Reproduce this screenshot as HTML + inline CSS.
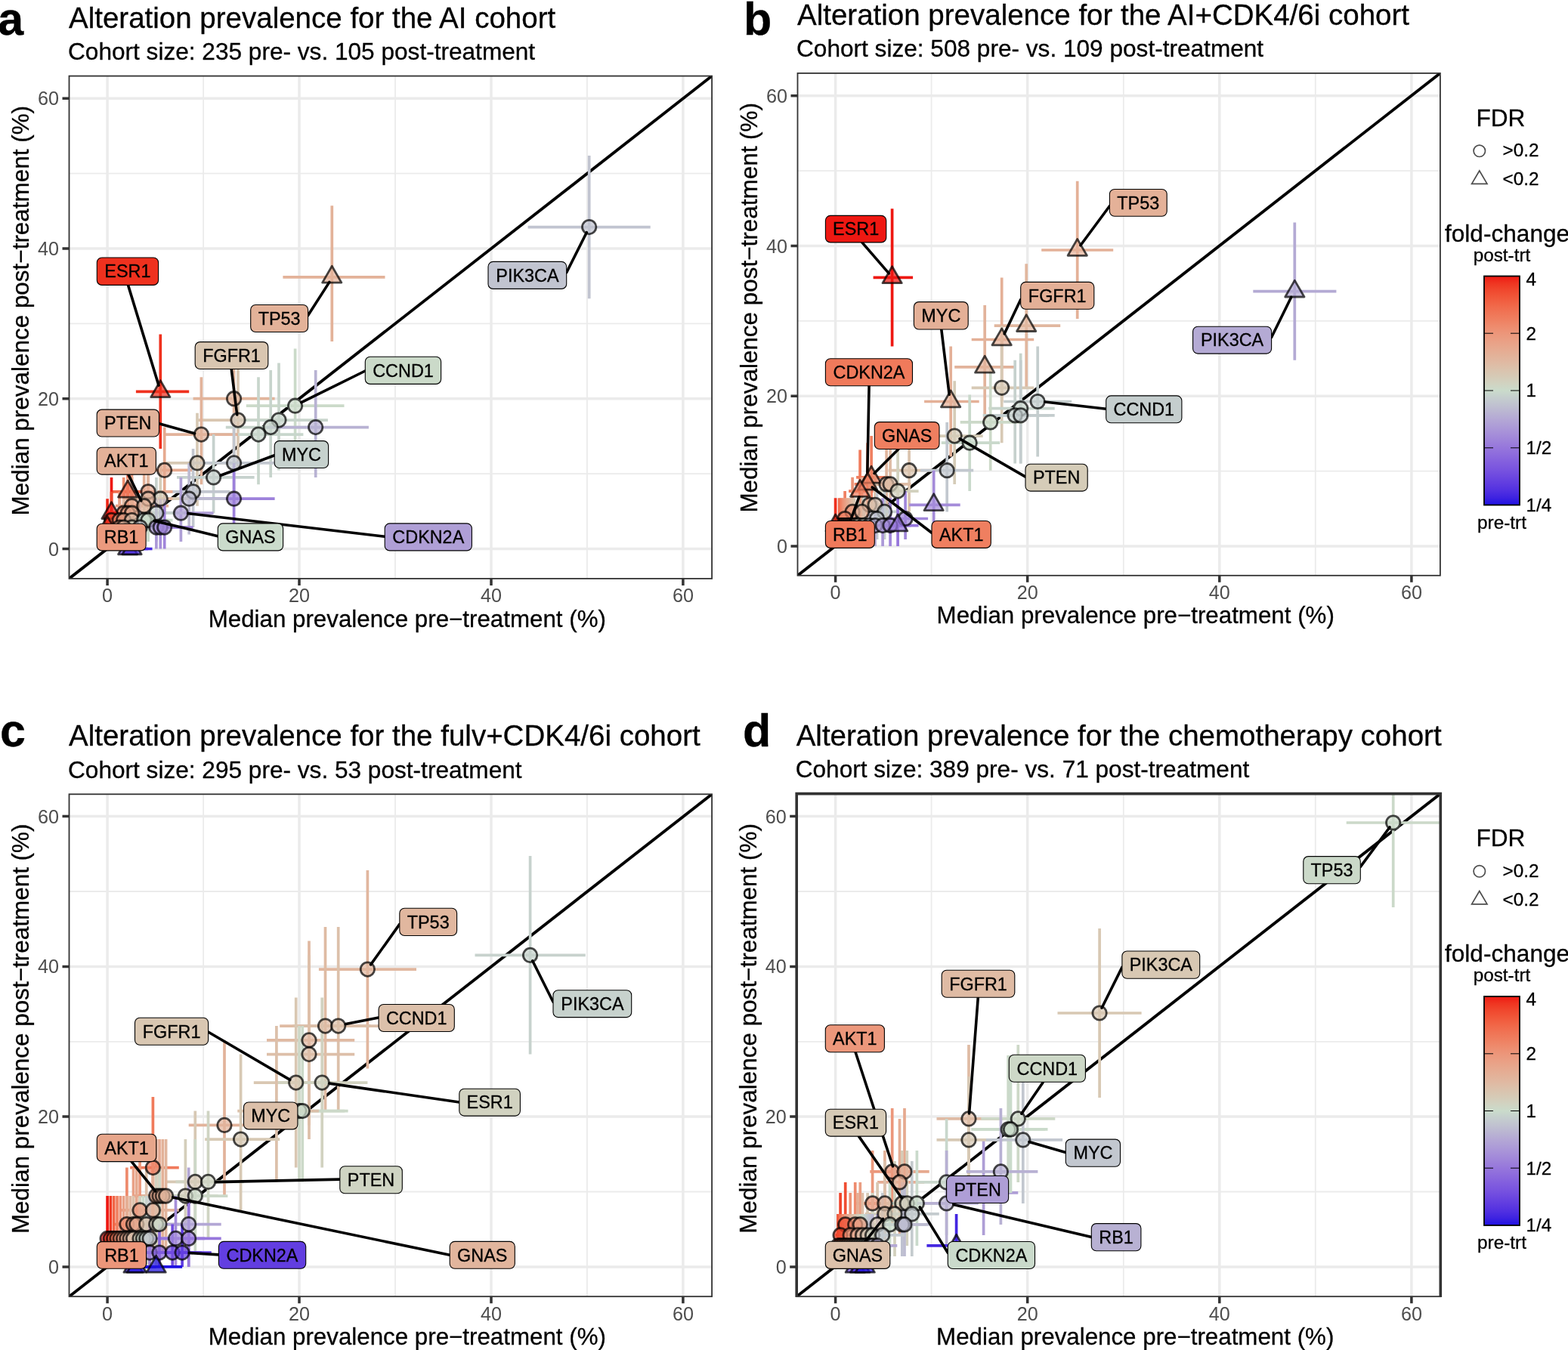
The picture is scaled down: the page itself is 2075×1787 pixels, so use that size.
<!DOCTYPE html>
<html lang="en"><head><meta charset="utf-8"><title>Alteration prevalence by cohort</title>
<style>html,body{margin:0;padding:0;background:#fff}svg{display:block}text{font-family:'Liberation Sans', Arial, Helvetica, sans-serif}.k{stroke:#000;stroke-width:.3px}</style></head><body>
<svg xmlns="http://www.w3.org/2000/svg" width="2075" height="1787" viewBox="0 0 2075 1787">
<rect width="2075" height="1787" fill="#fff"/>
<defs><linearGradient id="cbar" x1="0" y1="0" x2="0" y2="1"><stop offset="0%" stop-color="#ee1812"/><stop offset="3.1%" stop-color="#ef3521"/><stop offset="6.2%" stop-color="#f0482e"/><stop offset="9.4%" stop-color="#f1583a"/><stop offset="12.5%" stop-color="#f16647"/><stop offset="15.6%" stop-color="#f07354"/><stop offset="18.8%" stop-color="#ef7f60"/><stop offset="21.9%" stop-color="#ee8b6d"/><stop offset="25%" stop-color="#ec967a"/><stop offset="28.1%" stop-color="#ea9f84"/><stop offset="31.2%" stop-color="#e7a88e"/><stop offset="34.4%" stop-color="#e3b198"/><stop offset="37.5%" stop-color="#e0b9a2"/><stop offset="40.6%" stop-color="#dbc2ac"/><stop offset="43.8%" stop-color="#d6cab6"/><stop offset="46.9%" stop-color="#d1d3c1"/><stop offset="50%" stop-color="#cadbcb"/><stop offset="53.1%" stop-color="#c5cece"/><stop offset="56.2%" stop-color="#c0c2d0"/><stop offset="59.4%" stop-color="#bab5d2"/><stop offset="62.5%" stop-color="#b4a8d5"/><stop offset="65.6%" stop-color="#ad9cd7"/><stop offset="68.8%" stop-color="#a68fd9"/><stop offset="71.9%" stop-color="#9e83da"/><stop offset="75%" stop-color="#9676dc"/><stop offset="78.1%" stop-color="#8d6bdd"/><stop offset="81.2%" stop-color="#835fde"/><stop offset="84.4%" stop-color="#7954df"/><stop offset="87.5%" stop-color="#6d48e0"/><stop offset="90.6%" stop-color="#603ce0"/><stop offset="93.8%" stop-color="#5130e1"/><stop offset="96.9%" stop-color="#3d22e1"/><stop offset="100%" stop-color="#1e10e2"/></linearGradient></defs>
<g id="panel-a">
<clipPath id="clipa"><rect x="91.5" y="100.6" width="850.6" height="665.3"/></clipPath>
<g clip-path="url(#clipa)">
<path d="M269.1 100.6V765.9M91.5 627.1H942.1M523 100.6V765.9M91.5 428.4H942.1M776.9 100.6V765.9M91.5 229.6H942.1" stroke="#ebebeb" stroke-width="1.8" fill="none"/>
<path d="M142.1 100.6V765.9M91.5 726.5H942.1M396 100.6V765.9M91.5 527.7H942.1M650 100.6V765.9M91.5 329H942.1M903.9 100.6V765.9M91.5 130.2H942.1" stroke="#ebebeb" stroke-width="3.5" fill="none"/>
<path d="M74.5 779.2L959.1 87.3" stroke="#000" stroke-width="3.9" fill="none"/>
<path d="M769.5 300.6a10.2 10.2 0 1 0 20.4 0a10.2 10.2 0 1 0 -20.4 0ZM439.3 350.6L425.2 374.9H453.3ZM212.3 502.1L198.3 526.4H226.4ZM299.4 527.7a10.2 10.2 0 1 0 20.4 0a10.2 10.2 0 1 0 -20.4 0ZM304.8 556.1a10.2 10.2 0 1 0 20.4 0a10.2 10.2 0 1 0 -20.4 0ZM380.4 537.2a10.2 10.2 0 1 0 20.4 0a10.2 10.2 0 1 0 -20.4 0ZM358.8 556.1a10.2 10.2 0 1 0 20.4 0a10.2 10.2 0 1 0 -20.4 0ZM348 565.6a10.2 10.2 0 1 0 20.4 0a10.2 10.2 0 1 0 -20.4 0ZM331.8 575.1a10.2 10.2 0 1 0 20.4 0a10.2 10.2 0 1 0 -20.4 0ZM407.5 565.6a10.2 10.2 0 1 0 20.4 0a10.2 10.2 0 1 0 -20.4 0ZM256.2 575.1a10.2 10.2 0 1 0 20.4 0a10.2 10.2 0 1 0 -20.4 0ZM250.8 612.9a10.2 10.2 0 1 0 20.4 0a10.2 10.2 0 1 0 -20.4 0ZM299.4 612.9a10.2 10.2 0 1 0 20.4 0a10.2 10.2 0 1 0 -20.4 0ZM207.5 622.4a10.2 10.2 0 1 0 20.4 0a10.2 10.2 0 1 0 -20.4 0ZM272.4 631.9a10.2 10.2 0 1 0 20.4 0a10.2 10.2 0 1 0 -20.4 0ZM245.4 650.8a10.2 10.2 0 1 0 20.4 0a10.2 10.2 0 1 0 -20.4 0ZM185.9 650.8a10.2 10.2 0 1 0 20.4 0a10.2 10.2 0 1 0 -20.4 0ZM169.1 634.6L155.1 658.9H183.1ZM299.4 660.2a10.2 10.2 0 1 0 20.4 0a10.2 10.2 0 1 0 -20.4 0ZM240 660.2a10.2 10.2 0 1 0 20.4 0a10.2 10.2 0 1 0 -20.4 0ZM202.1 660.2a10.2 10.2 0 1 0 20.4 0a10.2 10.2 0 1 0 -20.4 0ZM185.9 660.2a10.2 10.2 0 1 0 20.4 0a10.2 10.2 0 1 0 -20.4 0ZM164.3 669.7a10.2 10.2 0 1 0 20.4 0a10.2 10.2 0 1 0 -20.4 0ZM180.5 669.7a10.2 10.2 0 1 0 20.4 0a10.2 10.2 0 1 0 -20.4 0ZM229.2 679.2a10.2 10.2 0 1 0 20.4 0a10.2 10.2 0 1 0 -20.4 0ZM196.7 679.2a10.2 10.2 0 1 0 20.4 0a10.2 10.2 0 1 0 -20.4 0ZM153.5 679.2a10.2 10.2 0 1 0 20.4 0a10.2 10.2 0 1 0 -20.4 0ZM158.9 679.2a10.2 10.2 0 1 0 20.4 0a10.2 10.2 0 1 0 -20.4 0ZM164.3 679.2a10.2 10.2 0 1 0 20.4 0a10.2 10.2 0 1 0 -20.4 0ZM147.5 663L133.5 687.3H161.5ZM137.3 688.6a10.2 10.2 0 1 0 20.4 0a10.2 10.2 0 1 0 -20.4 0ZM148.1 688.6a10.2 10.2 0 1 0 20.4 0a10.2 10.2 0 1 0 -20.4 0ZM153.5 688.6a10.2 10.2 0 1 0 20.4 0a10.2 10.2 0 1 0 -20.4 0ZM164.3 688.6a10.2 10.2 0 1 0 20.4 0a10.2 10.2 0 1 0 -20.4 0ZM180.5 688.6a10.2 10.2 0 1 0 20.4 0a10.2 10.2 0 1 0 -20.4 0ZM185.9 688.6a10.2 10.2 0 1 0 20.4 0a10.2 10.2 0 1 0 -20.4 0ZM196.7 698.1a10.2 10.2 0 1 0 20.4 0a10.2 10.2 0 1 0 -20.4 0ZM202.1 698.1a10.2 10.2 0 1 0 20.4 0a10.2 10.2 0 1 0 -20.4 0ZM207.5 698.1a10.2 10.2 0 1 0 20.4 0a10.2 10.2 0 1 0 -20.4 0ZM164.3 698.1a10.2 10.2 0 1 0 20.4 0a10.2 10.2 0 1 0 -20.4 0ZM175.1 698.1a10.2 10.2 0 1 0 20.4 0a10.2 10.2 0 1 0 -20.4 0ZM148.1 698.1a10.2 10.2 0 1 0 20.4 0a10.2 10.2 0 1 0 -20.4 0ZM153.5 698.1a10.2 10.2 0 1 0 20.4 0a10.2 10.2 0 1 0 -20.4 0ZM142.1 681.9L128.1 706.2H156.1ZM169.1 710.3L155.1 734.6H183.1ZM174.5 710.3L160.5 734.6H188.5Z" fill="#fff" stroke="none"/>
<path d="M698.6 300.6H860.7M779.7 205.9V395.2" stroke="#c1c4d0" stroke-width="3.7" stroke-opacity="1" fill="none"/>
<path d="M374.4 366.8H509.5M439.3 272.2V452" stroke="#e3b299" stroke-width="3.7" stroke-opacity="1" fill="none"/>
<path d="M179.9 518.3H250.2M212.3 442.6V594" stroke="#ef311e" stroke-width="3.7" stroke-opacity="1" fill="none"/>
<path d="M255.6 527.7H363.6M309.6 452V603.5" stroke="#e2b59c" stroke-width="3.7" stroke-opacity="1" fill="none"/>
<path d="M261 556.1H374.4M315 480.4V622.4" stroke="#d9c6b1" stroke-width="3.7" stroke-opacity="1" fill="none"/>
<path d="M325.8 537.2H455.5M390.6 461.5V612.9" stroke="#cbdac9" stroke-width="3.7" stroke-opacity="1" fill="none"/>
<path d="M309.6 556.1H433.9M369 480.4V622.4" stroke="#c8d5cc" stroke-width="3.7" stroke-opacity="1" fill="none"/>
<path d="M298.8 565.6H423.1M358.2 489.9V631.9" stroke="#c7d4cc" stroke-width="3.7" stroke-opacity="1" fill="none"/>
<path d="M282.6 575.1H401.4M342 499.3V641.3" stroke="#c8d6cc" stroke-width="3.7" stroke-opacity="1" fill="none"/>
<path d="M352.8 565.6H487.9M417.7 489.9V631.9" stroke="#b8b2d3" stroke-width="3.7" stroke-opacity="1" fill="none"/>
<path d="M217.7 575.1H315M266.4 499.3V641.3" stroke="#e2b39b" stroke-width="3.7" stroke-opacity="1" fill="none"/>
<path d="M217.7 612.9H309.6M261 546.7V669.7" stroke="#d7c9b5" stroke-width="3.7" stroke-opacity="1" fill="none"/>
<path d="M255.6 612.9H363.6M309.6 546.7V669.7" stroke="#c2c7cf" stroke-width="3.7" stroke-opacity="1" fill="none"/>
<path d="M179.9 622.4H255.6M217.7 565.6V679.2" stroke="#e6aa90" stroke-width="3.7" stroke-opacity="1" fill="none"/>
<path d="M234 631.9H336.6M282.6 575.1V679.2" stroke="#c6d1cd" stroke-width="3.7" stroke-opacity="1" fill="none"/>
<path d="M212.3 650.8H304.2M255.6 594V698.1" stroke="#c2c6cf" stroke-width="3.7" stroke-opacity="1" fill="none"/>
<path d="M163.7 650.8H228.5M196.1 594V698.1" stroke="#e6aa91" stroke-width="3.7" stroke-opacity="1" fill="none"/>
<path d="M147.5 650.8H196.1M169.1 594V698.1" stroke="#f16a4b" stroke-width="3.7" stroke-opacity="1" fill="none"/>
<path d="M255.6 660.2H363.6M309.6 612.9V707.6" stroke="#9d81db" stroke-width="3.7" stroke-opacity="1" fill="none"/>
<path d="M206.9 660.2H298.8M250.2 612.9V707.6" stroke="#bdbbd1" stroke-width="3.7" stroke-opacity="1" fill="none"/>
<path d="M179.9 660.2H250.2M212.3 612.9V707.6" stroke="#d5ccb8" stroke-width="3.7" stroke-opacity="1" fill="none"/>
<path d="M163.7 660.2H228.5M196.1 612.9V707.6" stroke="#e1b69e" stroke-width="3.7" stroke-opacity="1" fill="none"/>
<path d="M152.9 669.7H201.5M174.5 622.4V707.6" stroke="#ea9c80" stroke-width="3.7" stroke-opacity="1" fill="none"/>
<path d="M163.7 669.7H223.1M190.7 622.4V707.6" stroke="#e3b198" stroke-width="3.7" stroke-opacity="1" fill="none"/>
<path d="M196.1 679.2H282.6M239.4 631.9V717" stroke="#af9fd6" stroke-width="3.7" stroke-opacity="1" fill="none"/>
<path d="M174.5 679.2H244.8M206.9 631.9V717" stroke="#c7d2cd" stroke-width="3.7" stroke-opacity="1" fill="none"/>
<path d="M147.5 679.2H185.3M163.7 631.9V717" stroke="#ee8e70" stroke-width="3.7" stroke-opacity="1" fill="none"/>
<path d="M147.5 679.2H196.1M169.1 631.9V717" stroke="#ea9f83" stroke-width="3.7" stroke-opacity="1" fill="none"/>
<path d="M152.9 679.2H201.5M174.5 631.9V717" stroke="#e5ac92" stroke-width="3.7" stroke-opacity="1" fill="none"/>
<path d="M142.1 679.2H158.3M147.5 631.9V717" stroke="#ee1812" stroke-width="3.7" stroke-opacity="1" fill="none"/>
<path d="M142.1 688.6H158.3M147.5 650.8V717" stroke="#f0472d" stroke-width="3.7" stroke-opacity="1" fill="none"/>
<path d="M142.1 688.6H179.9M158.3 650.8V717" stroke="#ed8f72" stroke-width="3.7" stroke-opacity="1" fill="none"/>
<path d="M147.5 688.6H185.3M163.7 650.8V717" stroke="#e9a287" stroke-width="3.7" stroke-opacity="1" fill="none"/>
<path d="M152.9 688.6H201.5M174.5 650.8V717" stroke="#debea7" stroke-width="3.7" stroke-opacity="1" fill="none"/>
<path d="M163.7 688.6H223.1M190.7 650.8V717" stroke="#cadacb" stroke-width="3.7" stroke-opacity="1" fill="none"/>
<path d="M163.7 688.6H228.5M196.1 650.8V717" stroke="#cadbcb" stroke-width="3.7" stroke-opacity="1" fill="none"/>
<path d="M174.5 698.1H244.8M206.9 660.2V726.5" stroke="#ab98d7" stroke-width="3.7" stroke-opacity="1" fill="none"/>
<path d="M179.9 698.1H250.2M212.3 660.2V726.5" stroke="#a58ed9" stroke-width="3.7" stroke-opacity="1" fill="none"/>
<path d="M179.9 698.1H255.6M217.7 660.2V726.5" stroke="#a085da" stroke-width="3.7" stroke-opacity="1" fill="none"/>
<path d="M152.9 698.1H201.5M174.5 660.2V726.5" stroke="#d0d3c1" stroke-width="3.7" stroke-opacity="1" fill="none"/>
<path d="M158.3 698.1H217.7M185.3 660.2V726.5" stroke="#c2c7cf" stroke-width="3.7" stroke-opacity="1" fill="none"/>
<path d="M142.1 698.1H179.9M158.3 660.2V726.5" stroke="#e7a78d" stroke-width="3.7" stroke-opacity="1" fill="none"/>
<path d="M147.5 698.1H185.3M163.7 660.2V726.5" stroke="#e0b8a1" stroke-width="3.7" stroke-opacity="1" fill="none"/>
<path d="M142.1 660.2V726.5" stroke="#ef2718" stroke-width="3.7" stroke-opacity="1" fill="none"/>
<path d="M147.5 726.5H196.1" stroke="#5e3ae0" stroke-width="3.7" stroke-opacity="1" fill="none"/>
<path d="M152.9 726.5H201.5" stroke="#4527e1" stroke-width="3.7" stroke-opacity="1" fill="none"/>
<circle cx="779.7" cy="300.6" r="9.2" fill="#c1c4d0" fill-opacity="0.72" stroke="#000" stroke-opacity="0.72" stroke-width="2.8"/>
<polygon points="439.3,352.2 426.6,374.1 451.9,374.1" fill="#e3b299" fill-opacity="0.72" stroke="#000" stroke-opacity="0.72" stroke-width="2.8" stroke-linejoin="round"/>
<polygon points="212.3,503.7 199.7,525.6 225,525.6" fill="#ef311e" fill-opacity="0.72" stroke="#000" stroke-opacity="0.72" stroke-width="2.8" stroke-linejoin="round"/>
<circle cx="309.6" cy="527.7" r="9.2" fill="#e2b59c" fill-opacity="0.72" stroke="#000" stroke-opacity="0.72" stroke-width="2.8"/>
<circle cx="315" cy="556.1" r="9.2" fill="#d9c6b1" fill-opacity="0.72" stroke="#000" stroke-opacity="0.72" stroke-width="2.8"/>
<circle cx="390.6" cy="537.2" r="9.2" fill="#cbdac9" fill-opacity="0.72" stroke="#000" stroke-opacity="0.72" stroke-width="2.8"/>
<circle cx="369" cy="556.1" r="9.2" fill="#c8d5cc" fill-opacity="0.72" stroke="#000" stroke-opacity="0.72" stroke-width="2.8"/>
<circle cx="358.2" cy="565.6" r="9.2" fill="#c7d4cc" fill-opacity="0.72" stroke="#000" stroke-opacity="0.72" stroke-width="2.8"/>
<circle cx="342" cy="575.1" r="9.2" fill="#c8d6cc" fill-opacity="0.72" stroke="#000" stroke-opacity="0.72" stroke-width="2.8"/>
<circle cx="417.7" cy="565.6" r="9.2" fill="#b8b2d3" fill-opacity="0.72" stroke="#000" stroke-opacity="0.72" stroke-width="2.8"/>
<circle cx="266.4" cy="575.1" r="9.2" fill="#e2b39b" fill-opacity="0.72" stroke="#000" stroke-opacity="0.72" stroke-width="2.8"/>
<circle cx="261" cy="612.9" r="9.2" fill="#d7c9b5" fill-opacity="0.72" stroke="#000" stroke-opacity="0.72" stroke-width="2.8"/>
<circle cx="309.6" cy="612.9" r="9.2" fill="#c2c7cf" fill-opacity="0.72" stroke="#000" stroke-opacity="0.72" stroke-width="2.8"/>
<circle cx="217.7" cy="622.4" r="9.2" fill="#e6aa90" fill-opacity="0.72" stroke="#000" stroke-opacity="0.72" stroke-width="2.8"/>
<circle cx="282.6" cy="631.9" r="9.2" fill="#c6d1cd" fill-opacity="0.72" stroke="#000" stroke-opacity="0.72" stroke-width="2.8"/>
<circle cx="255.6" cy="650.8" r="9.2" fill="#c2c6cf" fill-opacity="0.72" stroke="#000" stroke-opacity="0.72" stroke-width="2.8"/>
<circle cx="196.1" cy="650.8" r="9.2" fill="#e6aa91" fill-opacity="0.72" stroke="#000" stroke-opacity="0.72" stroke-width="2.8"/>
<polygon points="169.1,636.2 156.5,658.1 181.8,658.1" fill="#f16a4b" fill-opacity="0.72" stroke="#000" stroke-opacity="0.72" stroke-width="2.8" stroke-linejoin="round"/>
<circle cx="309.6" cy="660.2" r="9.2" fill="#9d81db" fill-opacity="0.72" stroke="#000" stroke-opacity="0.72" stroke-width="2.8"/>
<circle cx="250.2" cy="660.2" r="9.2" fill="#bdbbd1" fill-opacity="0.72" stroke="#000" stroke-opacity="0.72" stroke-width="2.8"/>
<circle cx="212.3" cy="660.2" r="9.2" fill="#d5ccb8" fill-opacity="0.72" stroke="#000" stroke-opacity="0.72" stroke-width="2.8"/>
<circle cx="196.1" cy="660.2" r="9.2" fill="#e1b69e" fill-opacity="0.72" stroke="#000" stroke-opacity="0.72" stroke-width="2.8"/>
<circle cx="174.5" cy="669.7" r="9.2" fill="#ea9c80" fill-opacity="0.72" stroke="#000" stroke-opacity="0.72" stroke-width="2.8"/>
<circle cx="190.7" cy="669.7" r="9.2" fill="#e3b198" fill-opacity="0.72" stroke="#000" stroke-opacity="0.72" stroke-width="2.8"/>
<circle cx="239.4" cy="679.2" r="9.2" fill="#af9fd6" fill-opacity="0.72" stroke="#000" stroke-opacity="0.72" stroke-width="2.8"/>
<circle cx="206.9" cy="679.2" r="9.2" fill="#c7d2cd" fill-opacity="0.72" stroke="#000" stroke-opacity="0.72" stroke-width="2.8"/>
<circle cx="163.7" cy="679.2" r="9.2" fill="#ee8e70" fill-opacity="0.72" stroke="#000" stroke-opacity="0.72" stroke-width="2.8"/>
<circle cx="169.1" cy="679.2" r="9.2" fill="#ea9f83" fill-opacity="0.72" stroke="#000" stroke-opacity="0.72" stroke-width="2.8"/>
<circle cx="174.5" cy="679.2" r="9.2" fill="#e5ac92" fill-opacity="0.72" stroke="#000" stroke-opacity="0.72" stroke-width="2.8"/>
<polygon points="147.5,664.6 134.9,686.5 160.1,686.5" fill="#ee1812" fill-opacity="0.72" stroke="#000" stroke-opacity="0.72" stroke-width="2.8" stroke-linejoin="round"/>
<circle cx="147.5" cy="688.6" r="9.2" fill="#f0472d" fill-opacity="0.72" stroke="#000" stroke-opacity="0.72" stroke-width="2.8"/>
<circle cx="158.3" cy="688.6" r="9.2" fill="#ed8f72" fill-opacity="0.72" stroke="#000" stroke-opacity="0.72" stroke-width="2.8"/>
<circle cx="163.7" cy="688.6" r="9.2" fill="#e9a287" fill-opacity="0.72" stroke="#000" stroke-opacity="0.72" stroke-width="2.8"/>
<circle cx="174.5" cy="688.6" r="9.2" fill="#debea7" fill-opacity="0.72" stroke="#000" stroke-opacity="0.72" stroke-width="2.8"/>
<circle cx="190.7" cy="688.6" r="9.2" fill="#cadacb" fill-opacity="0.72" stroke="#000" stroke-opacity="0.72" stroke-width="2.8"/>
<circle cx="196.1" cy="688.6" r="9.2" fill="#cadbcb" fill-opacity="0.72" stroke="#000" stroke-opacity="0.72" stroke-width="2.8"/>
<circle cx="206.9" cy="698.1" r="9.2" fill="#ab98d7" fill-opacity="0.72" stroke="#000" stroke-opacity="0.72" stroke-width="2.8"/>
<circle cx="212.3" cy="698.1" r="9.2" fill="#a58ed9" fill-opacity="0.72" stroke="#000" stroke-opacity="0.72" stroke-width="2.8"/>
<circle cx="217.7" cy="698.1" r="9.2" fill="#a085da" fill-opacity="0.72" stroke="#000" stroke-opacity="0.72" stroke-width="2.8"/>
<circle cx="174.5" cy="698.1" r="9.2" fill="#d0d3c1" fill-opacity="0.72" stroke="#000" stroke-opacity="0.72" stroke-width="2.8"/>
<circle cx="185.3" cy="698.1" r="9.2" fill="#c2c7cf" fill-opacity="0.72" stroke="#000" stroke-opacity="0.72" stroke-width="2.8"/>
<circle cx="158.3" cy="698.1" r="9.2" fill="#e7a78d" fill-opacity="0.72" stroke="#000" stroke-opacity="0.72" stroke-width="2.8"/>
<circle cx="163.7" cy="698.1" r="9.2" fill="#e0b8a1" fill-opacity="0.72" stroke="#000" stroke-opacity="0.72" stroke-width="2.8"/>
<polygon points="142.1,683.5 129.5,705.4 154.7,705.4" fill="#ef2718" fill-opacity="0.72" stroke="#000" stroke-opacity="0.72" stroke-width="2.8" stroke-linejoin="round"/>
<polygon points="169.1,711.9 156.5,733.8 181.8,733.8" fill="#5e3ae0" fill-opacity="0.72" stroke="#000" stroke-opacity="0.72" stroke-width="2.8" stroke-linejoin="round"/>
<polygon points="174.5,711.9 161.9,733.8 187.2,733.8" fill="#4527e1" fill-opacity="0.72" stroke="#000" stroke-opacity="0.72" stroke-width="2.8" stroke-linejoin="round"/>
</g>
<path d="M169.5 377.4L210 510.1" stroke="#000" stroke-width="3.6" stroke-linecap="round" fill="none"/>
<path d="M407.6 417.5L435.9 373.4" stroke="#000" stroke-width="3.6" stroke-linecap="round" fill="none"/>
<path d="M749.7 360.7L776.3 307.7" stroke="#000" stroke-width="3.6" stroke-linecap="round" fill="none"/>
<path d="M306.2 488.4L313.7 548.9" stroke="#000" stroke-width="3.6" stroke-linecap="round" fill="none"/>
<path d="M483.2 491L398.9 532.7" stroke="#000" stroke-width="3.6" stroke-linecap="round" fill="none"/>
<path d="M210.5 560.7L257.6 573.8" stroke="#000" stroke-width="3.6" stroke-linecap="round" fill="none"/>
<path d="M169.9 628.1L186.7 662.8" stroke="#000" stroke-width="3.6" stroke-linecap="round" fill="none"/>
<path d="M363.2 602.7L292.1 629.2" stroke="#000" stroke-width="3.6" stroke-linecap="round" fill="none"/>
<path d="M288.3 709.7L204.1 689.5" stroke="#000" stroke-width="3.6" stroke-linecap="round" fill="none"/>
<path d="M509.2 710.3L248.7 679.6" stroke="#000" stroke-width="3.6" stroke-linecap="round" fill="none"/>
<rect x="128.3" y="341" width="81.3" height="36.4" rx="6.5" fill="#ef311e" stroke="#000" stroke-width="1.1"/>
<text x="168.9" y="367.4" text-anchor="middle" font-size="23.4" fill="#000" stroke="#000" stroke-width="0.3">ESR1</text>
<rect x="331.7" y="403.5" width="75.9" height="36" rx="6.5" fill="#e3b299" stroke="#000" stroke-width="1.1"/>
<text x="369.6" y="429.7" text-anchor="middle" font-size="23.4" fill="#000" stroke="#000" stroke-width="0.3">TP53</text>
<rect x="646" y="346.4" width="103.7" height="36" rx="6.5" fill="#c1c4d0" stroke="#000" stroke-width="1.1"/>
<text x="697.9" y="372.6" text-anchor="middle" font-size="23.4" fill="#000" stroke="#000" stroke-width="0.3">PIK3CA</text>
<rect x="258.2" y="452.6" width="96.6" height="35.9" rx="6.5" fill="#d9c6b1" stroke="#000" stroke-width="1.1"/>
<text x="306.5" y="478.8" text-anchor="middle" font-size="23.4" fill="#000" stroke="#000" stroke-width="0.3">FGFR1</text>
<rect x="483.3" y="472.3" width="100.3" height="36.1" rx="6.5" fill="#cbdac9" stroke="#000" stroke-width="1.1"/>
<text x="533.5" y="498.6" text-anchor="middle" font-size="23.4" fill="#000" stroke="#000" stroke-width="0.3">CCND1</text>
<rect x="128.2" y="542.1" width="82.3" height="35.9" rx="6.5" fill="#e2b39b" stroke="#000" stroke-width="1.1"/>
<text x="169.3" y="568.2" text-anchor="middle" font-size="23.4" fill="#000" stroke="#000" stroke-width="0.3">PTEN</text>
<rect x="128.2" y="592.2" width="78.2" height="35.9" rx="6.5" fill="#e3b198" stroke="#000" stroke-width="1.1"/>
<text x="167.3" y="618.4" text-anchor="middle" font-size="23.4" fill="#000" stroke="#000" stroke-width="0.3">AKT1</text>
<rect x="363.2" y="583.6" width="71.4" height="35.9" rx="6.5" fill="#c6d1cd" stroke="#000" stroke-width="1.1"/>
<text x="398.9" y="609.8" text-anchor="middle" font-size="23.4" fill="#000" stroke="#000" stroke-width="0.3">MYC</text>
<rect x="128.2" y="693.2" width="64.9" height="35.7" rx="6.5" fill="#eb9a7e" stroke="#000" stroke-width="1.1"/>
<text x="160.6" y="719.2" text-anchor="middle" font-size="23.4" fill="#000" stroke="#000" stroke-width="0.3">RB1</text>
<rect x="288.3" y="692.9" width="86.3" height="36" rx="6.5" fill="#cadbcb" stroke="#000" stroke-width="1.1"/>
<text x="331.5" y="719.1" text-anchor="middle" font-size="23.4" fill="#000" stroke="#000" stroke-width="0.3">GNAS</text>
<rect x="509.2" y="692.9" width="115.2" height="36" rx="6.5" fill="#af9fd6" stroke="#000" stroke-width="1.1"/>
<text x="566.8" y="719.1" text-anchor="middle" font-size="23.4" fill="#000" stroke="#000" stroke-width="0.3">CDKN2A</text>
<rect x="91.5" y="100.6" width="850.6" height="665.3" fill="none" stroke="#333" stroke-width="1.8"/>
<path d="M142.1 765.9v9M91.5 726.5h-9M396 765.9v9M91.5 527.7h-9M650 765.9v9M91.5 329h-9M903.9 765.9v9M91.5 130.2h-9" stroke="#333" stroke-width="3.5" fill="none"/>
<text x="142.1" y="797.2" text-anchor="middle" font-size="25.2" fill="#4d4d4d">0</text>
<text x="78" y="735.5" text-anchor="end" font-size="25.2" fill="#4d4d4d">0</text>
<text x="396" y="797.2" text-anchor="middle" font-size="25.2" fill="#4d4d4d">20</text>
<text x="78" y="536.7" text-anchor="end" font-size="25.2" fill="#4d4d4d">20</text>
<text x="650" y="797.2" text-anchor="middle" font-size="25.2" fill="#4d4d4d">40</text>
<text x="78" y="338" text-anchor="end" font-size="25.2" fill="#4d4d4d">40</text>
<text x="903.9" y="797.2" text-anchor="middle" font-size="25.2" fill="#4d4d4d">60</text>
<text x="78" y="139.2" text-anchor="end" font-size="25.2" fill="#4d4d4d">60</text>
<text x="538.8" y="829.5" text-anchor="middle" font-size="31.3" fill="#000" class="k">Median prevalence pre−treatment (%)</text>
<text transform="translate(38.3 411.2) rotate(-90)" text-anchor="middle" font-size="31.45" fill="#000" class="k">Median prevalence post−treatment (%)</text>
<text x="91" y="36.7" font-size="38.5" fill="#000" class="k">Alteration prevalence for the AI cohort</text>
<text x="90" y="79.1" font-size="31.6" fill="#000" class="k">Cohort size: 235 pre- vs. 105 post-treatment</text>
<text x="-2.7" y="46" font-size="61" font-weight="bold" fill="#000" class="k">a</text>
</g>
<g id="panel-b">
<clipPath id="clipb"><rect x="1055.5" y="96.9" width="850.4" height="664.9"/></clipPath>
<g clip-path="url(#clipb)">
<path d="M1232.6 96.9V761.8M1055.5 623.6H1905.9M1486.8 96.9V761.8M1055.5 424.9H1905.9M1740.8 96.9V761.8M1055.5 226.1H1905.9" stroke="#ebebeb" stroke-width="1.8" fill="none"/>
<path d="M1105.6 96.9V761.8M1055.5 723H1905.9M1359.7 96.9V761.8M1055.5 524.2H1905.9M1613.8 96.9V761.8M1055.5 325.5H1905.9M1867.9 96.9V761.8M1055.5 126.7H1905.9" stroke="#ebebeb" stroke-width="3.5" fill="none"/>
<path d="M1038.5 775.1L1922.9 83.6" stroke="#000" stroke-width="3.9" fill="none"/>
<path d="M1713.3 369.5L1699.3 393.8H1727.4ZM1425.7 314.8L1411.7 339.1H1439.8ZM1180.6 351.2L1166.6 375.5H1194.7ZM1358.2 415L1344.2 439.3H1372.2ZM1325.7 433.3L1311.7 457.6H1339.7ZM1303.2 469.7L1289.1 494H1317.2ZM1258.2 515.3L1244.1 539.6H1272.2ZM1315.5 513.3a10.2 10.2 0 1 0 20.4 0a10.2 10.2 0 1 0 -20.4 0ZM1363 531.5a10.2 10.2 0 1 0 20.4 0a10.2 10.2 0 1 0 -20.4 0ZM1340.5 540.7a10.2 10.2 0 1 0 20.4 0a10.2 10.2 0 1 0 -20.4 0ZM1333 549.8a10.2 10.2 0 1 0 20.4 0a10.2 10.2 0 1 0 -20.4 0ZM1340.5 549.8a10.2 10.2 0 1 0 20.4 0a10.2 10.2 0 1 0 -20.4 0ZM1300.5 558.9a10.2 10.2 0 1 0 20.4 0a10.2 10.2 0 1 0 -20.4 0ZM1253 577.1a10.2 10.2 0 1 0 20.4 0a10.2 10.2 0 1 0 -20.4 0ZM1273 586.2a10.2 10.2 0 1 0 20.4 0a10.2 10.2 0 1 0 -20.4 0ZM1192.9 622.7a10.2 10.2 0 1 0 20.4 0a10.2 10.2 0 1 0 -20.4 0ZM1243 622.7a10.2 10.2 0 1 0 20.4 0a10.2 10.2 0 1 0 -20.4 0ZM1153.1 615.6L1139.1 639.9H1167.1ZM1148.1 624.7L1134.1 649H1162.1ZM1138.1 633.9L1124.1 658.2H1152.1ZM1162.9 640.9a10.2 10.2 0 1 0 20.4 0a10.2 10.2 0 1 0 -20.4 0ZM1167.9 640.9a10.2 10.2 0 1 0 20.4 0a10.2 10.2 0 1 0 -20.4 0ZM1177.9 650.1a10.2 10.2 0 1 0 20.4 0a10.2 10.2 0 1 0 -20.4 0ZM1235.7 652.1L1221.6 676.4H1249.7ZM1140.4 668.3a10.2 10.2 0 1 0 20.4 0a10.2 10.2 0 1 0 -20.4 0ZM1147.9 668.3a10.2 10.2 0 1 0 20.4 0a10.2 10.2 0 1 0 -20.4 0ZM1117.9 677.4a10.2 10.2 0 1 0 20.4 0a10.2 10.2 0 1 0 -20.4 0ZM1130.4 677.4a10.2 10.2 0 1 0 20.4 0a10.2 10.2 0 1 0 -20.4 0ZM1160.4 677.4a10.2 10.2 0 1 0 20.4 0a10.2 10.2 0 1 0 -20.4 0ZM1107.9 686.5a10.2 10.2 0 1 0 20.4 0a10.2 10.2 0 1 0 -20.4 0ZM1150.4 686.5a10.2 10.2 0 1 0 20.4 0a10.2 10.2 0 1 0 -20.4 0ZM1187.9 686.5a10.2 10.2 0 1 0 20.4 0a10.2 10.2 0 1 0 -20.4 0ZM1100.4 695.6a10.2 10.2 0 1 0 20.4 0a10.2 10.2 0 1 0 -20.4 0ZM1102.9 695.6a10.2 10.2 0 1 0 20.4 0a10.2 10.2 0 1 0 -20.4 0ZM1105.4 695.6a10.2 10.2 0 1 0 20.4 0a10.2 10.2 0 1 0 -20.4 0ZM1107.9 695.6a10.2 10.2 0 1 0 20.4 0a10.2 10.2 0 1 0 -20.4 0ZM1110.4 695.6a10.2 10.2 0 1 0 20.4 0a10.2 10.2 0 1 0 -20.4 0ZM1112.9 695.6a10.2 10.2 0 1 0 20.4 0a10.2 10.2 0 1 0 -20.4 0ZM1115.4 695.6a10.2 10.2 0 1 0 20.4 0a10.2 10.2 0 1 0 -20.4 0ZM1117.9 695.6a10.2 10.2 0 1 0 20.4 0a10.2 10.2 0 1 0 -20.4 0ZM1120.4 695.6a10.2 10.2 0 1 0 20.4 0a10.2 10.2 0 1 0 -20.4 0ZM1125.4 695.6a10.2 10.2 0 1 0 20.4 0a10.2 10.2 0 1 0 -20.4 0ZM1132.9 695.6a10.2 10.2 0 1 0 20.4 0a10.2 10.2 0 1 0 -20.4 0ZM1140.4 695.6a10.2 10.2 0 1 0 20.4 0a10.2 10.2 0 1 0 -20.4 0ZM1147.9 695.6a10.2 10.2 0 1 0 20.4 0a10.2 10.2 0 1 0 -20.4 0ZM1157.9 695.6a10.2 10.2 0 1 0 20.4 0a10.2 10.2 0 1 0 -20.4 0ZM1167.9 695.6a10.2 10.2 0 1 0 20.4 0a10.2 10.2 0 1 0 -20.4 0ZM1188.1 679.4L1174.1 703.7H1202.2ZM1105.6 679.4L1091.6 703.7H1119.6Z" fill="#fff" stroke="none"/>
<path d="M1658.3 385.7H1768.4M1713.3 294.5V476.8" stroke="#b4aad4" stroke-width="3.7" stroke-opacity="1" fill="none"/>
<path d="M1378.2 331H1473.2M1425.7 239.8V422.1" stroke="#e4b198" stroke-width="3.7" stroke-opacity="1" fill="none"/>
<path d="M1155.6 367.4H1208.1M1180.6 276.2V458.6" stroke="#ee1812" stroke-width="3.7" stroke-opacity="1" fill="none"/>
<path d="M1315.7 431.2H1403.2M1358.2 349.2V513.3" stroke="#e1b79f" stroke-width="3.7" stroke-opacity="1" fill="none"/>
<path d="M1285.7 449.5H1368.2M1325.7 367.4V531.5" stroke="#e4b097" stroke-width="3.7" stroke-opacity="1" fill="none"/>
<path d="M1263.2 485.9H1343.2M1303.2 403.9V558.9" stroke="#e2b39b" stroke-width="3.7" stroke-opacity="1" fill="none"/>
<path d="M1223.1 531.5H1295.7M1258.2 458.6V604.5" stroke="#e4b097" stroke-width="3.7" stroke-opacity="1" fill="none"/>
<path d="M1285.7 513.3H1368.2M1325.7 431.2V586.2" stroke="#d7c9b5" stroke-width="3.7" stroke-opacity="1" fill="none"/>
<path d="M1328.2 531.5H1418.2M1373.2 458.6V604.5" stroke="#c5cece" stroke-width="3.7" stroke-opacity="1" fill="none"/>
<path d="M1308.2 540.7H1395.7M1350.7 467.7V613.6" stroke="#c7d4cc" stroke-width="3.7" stroke-opacity="1" fill="none"/>
<path d="M1300.7 549.8H1388.2M1343.2 476.8V613.6" stroke="#c6d1cd" stroke-width="3.7" stroke-opacity="1" fill="none"/>
<path d="M1308.2 549.8H1395.7M1350.7 476.8V613.6" stroke="#c4cdce" stroke-width="3.7" stroke-opacity="1" fill="none"/>
<path d="M1270.7 558.9H1353.2M1310.7 485.9V622.7" stroke="#ccd9c8" stroke-width="3.7" stroke-opacity="1" fill="none"/>
<path d="M1228.1 577.1H1300.7M1263.2 504.2V640.9" stroke="#d5ccb8" stroke-width="3.7" stroke-opacity="1" fill="none"/>
<path d="M1245.7 586.2H1323.2M1283.2 522.4V650.1" stroke="#c9d9cb" stroke-width="3.7" stroke-opacity="1" fill="none"/>
<path d="M1175.6 622.7H1233.2M1203.1 558.9V677.4" stroke="#dac3ae" stroke-width="3.7" stroke-opacity="1" fill="none"/>
<path d="M1218.1 622.7H1288.2M1253.2 558.9V677.4" stroke="#c2c8cf" stroke-width="3.7" stroke-opacity="1" fill="none"/>
<path d="M1133.1 631.8H1175.6M1153.1 577.1V677.4" stroke="#ef7f60" stroke-width="3.7" stroke-opacity="1" fill="none"/>
<path d="M1130.6 640.9H1168.1M1148.1 586.2V686.5" stroke="#ef7f60" stroke-width="3.7" stroke-opacity="1" fill="none"/>
<path d="M1123.1 650.1H1155.6M1138.1 595.4V695.6" stroke="#f07a5b" stroke-width="3.7" stroke-opacity="1" fill="none"/>
<path d="M1150.6 640.9H1198.1M1173.1 586.2V686.5" stroke="#e1b69e" stroke-width="3.7" stroke-opacity="1" fill="none"/>
<path d="M1153.1 640.9H1205.6M1178.1 586.2V686.5" stroke="#debca5" stroke-width="3.7" stroke-opacity="1" fill="none"/>
<path d="M1163.1 650.1H1215.6M1188.1 595.4V695.6" stroke="#d2d1be" stroke-width="3.7" stroke-opacity="1" fill="none"/>
<path d="M1203.1 668.3H1270.7M1235.7 622.7V704.8" stroke="#a48bd9" stroke-width="3.7" stroke-opacity="1" fill="none"/>
<path d="M1130.6 668.3H1173.1M1150.6 622.7V704.8" stroke="#e0b8a0" stroke-width="3.7" stroke-opacity="1" fill="none"/>
<path d="M1138.1 668.3H1180.6M1158.1 622.7V704.8" stroke="#dac4af" stroke-width="3.7" stroke-opacity="1" fill="none"/>
<path d="M1115.6 677.4H1143.1M1128.1 631.8V713.9" stroke="#ec9579" stroke-width="3.7" stroke-opacity="1" fill="none"/>
<path d="M1123.1 677.4H1160.6M1140.6 631.8V713.9" stroke="#e2b49c" stroke-width="3.7" stroke-opacity="1" fill="none"/>
<path d="M1148.1 677.4H1195.6M1170.6 631.8V713.9" stroke="#c5cece" stroke-width="3.7" stroke-opacity="1" fill="none"/>
<path d="M1108.1 686.5H1130.6M1118.1 650.1V713.9" stroke="#ef8062" stroke-width="3.7" stroke-opacity="1" fill="none"/>
<path d="M1138.1 686.5H1183.1M1160.6 650.1V713.9" stroke="#c2c8cf" stroke-width="3.7" stroke-opacity="1" fill="none"/>
<path d="M1170.6 686.5H1228.1M1198.1 650.1V713.9" stroke="#a187da" stroke-width="3.7" stroke-opacity="1" fill="none"/>
<path d="M1105.6 695.6H1118.1M1110.6 659.2V723" stroke="#f06d4e" stroke-width="3.7" stroke-opacity="1" fill="none"/>
<path d="M1105.6 695.6H1123.1M1113.1 659.2V723" stroke="#ef8062" stroke-width="3.7" stroke-opacity="1" fill="none"/>
<path d="M1108.1 695.6H1125.6M1115.6 659.2V723" stroke="#ed9073" stroke-width="3.7" stroke-opacity="1" fill="none"/>
<path d="M1108.1 695.6H1130.6M1118.1 659.2V723" stroke="#ea9c80" stroke-width="3.7" stroke-opacity="1" fill="none"/>
<path d="M1110.6 695.6H1133.1M1120.6 659.2V723" stroke="#e8a68b" stroke-width="3.7" stroke-opacity="1" fill="none"/>
<path d="M1110.6 695.6H1138.1M1123.1 659.2V723" stroke="#e4ae95" stroke-width="3.7" stroke-opacity="1" fill="none"/>
<path d="M1113.1 695.6H1140.6M1125.6 659.2V723" stroke="#e1b69e" stroke-width="3.7" stroke-opacity="1" fill="none"/>
<path d="M1115.6 695.6H1143.1M1128.1 659.2V723" stroke="#debea7" stroke-width="3.7" stroke-opacity="1" fill="none"/>
<path d="M1115.6 695.6H1148.1M1130.6 659.2V723" stroke="#dac4af" stroke-width="3.7" stroke-opacity="1" fill="none"/>
<path d="M1120.6 695.6H1153.1M1135.6 659.2V723" stroke="#d2d0be" stroke-width="3.7" stroke-opacity="1" fill="none"/>
<path d="M1125.6 695.6H1163.1M1143.1 659.2V723" stroke="#c7d3cd" stroke-width="3.7" stroke-opacity="1" fill="none"/>
<path d="M1130.6 695.6H1173.1M1150.6 659.2V723" stroke="#bebfd1" stroke-width="3.7" stroke-opacity="1" fill="none"/>
<path d="M1138.1 695.6H1180.6M1158.1 659.2V723" stroke="#b6add4" stroke-width="3.7" stroke-opacity="1" fill="none"/>
<path d="M1145.6 695.6H1193.1M1168.1 659.2V723" stroke="#ab98d7" stroke-width="3.7" stroke-opacity="1" fill="none"/>
<path d="M1153.1 695.6H1205.6M1178.1 659.2V723" stroke="#a086da" stroke-width="3.7" stroke-opacity="1" fill="none"/>
<path d="M1163.1 695.6H1215.6M1188.1 659.2V723" stroke="#9676dc" stroke-width="3.7" stroke-opacity="1" fill="none"/>
<path d="M1105.6 659.2V723" stroke="#ef2f1d" stroke-width="3.7" stroke-opacity="1" fill="none"/>
<polygon points="1713.3,371.1 1700.7,393 1726,393" fill="#b4aad4" fill-opacity="0.72" stroke="#000" stroke-opacity="0.72" stroke-width="2.8" stroke-linejoin="round"/>
<polygon points="1425.7,316.4 1413.1,338.3 1438.4,338.3" fill="#e4b198" fill-opacity="0.72" stroke="#000" stroke-opacity="0.72" stroke-width="2.8" stroke-linejoin="round"/>
<polygon points="1180.6,352.8 1168,374.7 1193.3,374.7" fill="#ee1812" fill-opacity="0.72" stroke="#000" stroke-opacity="0.72" stroke-width="2.8" stroke-linejoin="round"/>
<polygon points="1358.2,416.6 1345.6,438.5 1370.8,438.5" fill="#e1b79f" fill-opacity="0.72" stroke="#000" stroke-opacity="0.72" stroke-width="2.8" stroke-linejoin="round"/>
<polygon points="1325.7,434.9 1313,456.8 1338.3,456.8" fill="#e4b097" fill-opacity="0.72" stroke="#000" stroke-opacity="0.72" stroke-width="2.8" stroke-linejoin="round"/>
<polygon points="1303.2,471.3 1290.5,493.2 1315.8,493.2" fill="#e2b39b" fill-opacity="0.72" stroke="#000" stroke-opacity="0.72" stroke-width="2.8" stroke-linejoin="round"/>
<polygon points="1258.2,516.9 1245.5,538.8 1270.8,538.8" fill="#e4b097" fill-opacity="0.72" stroke="#000" stroke-opacity="0.72" stroke-width="2.8" stroke-linejoin="round"/>
<circle cx="1325.7" cy="513.3" r="9.2" fill="#d7c9b5" fill-opacity="0.72" stroke="#000" stroke-opacity="0.72" stroke-width="2.8"/>
<circle cx="1373.2" cy="531.5" r="9.2" fill="#c5cece" fill-opacity="0.72" stroke="#000" stroke-opacity="0.72" stroke-width="2.8"/>
<circle cx="1350.7" cy="540.7" r="9.2" fill="#c7d4cc" fill-opacity="0.72" stroke="#000" stroke-opacity="0.72" stroke-width="2.8"/>
<circle cx="1343.2" cy="549.8" r="9.2" fill="#c6d1cd" fill-opacity="0.72" stroke="#000" stroke-opacity="0.72" stroke-width="2.8"/>
<circle cx="1350.7" cy="549.8" r="9.2" fill="#c4cdce" fill-opacity="0.72" stroke="#000" stroke-opacity="0.72" stroke-width="2.8"/>
<circle cx="1310.7" cy="558.9" r="9.2" fill="#ccd9c8" fill-opacity="0.72" stroke="#000" stroke-opacity="0.72" stroke-width="2.8"/>
<circle cx="1263.2" cy="577.1" r="9.2" fill="#d5ccb8" fill-opacity="0.72" stroke="#000" stroke-opacity="0.72" stroke-width="2.8"/>
<circle cx="1283.2" cy="586.2" r="9.2" fill="#c9d9cb" fill-opacity="0.72" stroke="#000" stroke-opacity="0.72" stroke-width="2.8"/>
<circle cx="1203.1" cy="622.7" r="9.2" fill="#dac3ae" fill-opacity="0.72" stroke="#000" stroke-opacity="0.72" stroke-width="2.8"/>
<circle cx="1253.2" cy="622.7" r="9.2" fill="#c2c8cf" fill-opacity="0.72" stroke="#000" stroke-opacity="0.72" stroke-width="2.8"/>
<polygon points="1153.1,617.2 1140.5,639.1 1165.8,639.1" fill="#ef7f60" fill-opacity="0.72" stroke="#000" stroke-opacity="0.72" stroke-width="2.8" stroke-linejoin="round"/>
<polygon points="1148.1,626.3 1135.5,648.2 1160.8,648.2" fill="#ef7f60" fill-opacity="0.72" stroke="#000" stroke-opacity="0.72" stroke-width="2.8" stroke-linejoin="round"/>
<polygon points="1138.1,635.5 1125.5,657.4 1150.8,657.4" fill="#f07a5b" fill-opacity="0.72" stroke="#000" stroke-opacity="0.72" stroke-width="2.8" stroke-linejoin="round"/>
<circle cx="1173.1" cy="640.9" r="9.2" fill="#e1b69e" fill-opacity="0.72" stroke="#000" stroke-opacity="0.72" stroke-width="2.8"/>
<circle cx="1178.1" cy="640.9" r="9.2" fill="#debca5" fill-opacity="0.72" stroke="#000" stroke-opacity="0.72" stroke-width="2.8"/>
<circle cx="1188.1" cy="650.1" r="9.2" fill="#d2d1be" fill-opacity="0.72" stroke="#000" stroke-opacity="0.72" stroke-width="2.8"/>
<polygon points="1235.7,653.7 1223,675.6 1248.3,675.6" fill="#a48bd9" fill-opacity="0.72" stroke="#000" stroke-opacity="0.72" stroke-width="2.8" stroke-linejoin="round"/>
<circle cx="1150.6" cy="668.3" r="9.2" fill="#e0b8a0" fill-opacity="0.72" stroke="#000" stroke-opacity="0.72" stroke-width="2.8"/>
<circle cx="1158.1" cy="668.3" r="9.2" fill="#dac4af" fill-opacity="0.72" stroke="#000" stroke-opacity="0.72" stroke-width="2.8"/>
<circle cx="1128.1" cy="677.4" r="9.2" fill="#ec9579" fill-opacity="0.72" stroke="#000" stroke-opacity="0.72" stroke-width="2.8"/>
<circle cx="1140.6" cy="677.4" r="9.2" fill="#e2b49c" fill-opacity="0.72" stroke="#000" stroke-opacity="0.72" stroke-width="2.8"/>
<circle cx="1170.6" cy="677.4" r="9.2" fill="#c5cece" fill-opacity="0.72" stroke="#000" stroke-opacity="0.72" stroke-width="2.8"/>
<circle cx="1118.1" cy="686.5" r="9.2" fill="#ef8062" fill-opacity="0.72" stroke="#000" stroke-opacity="0.72" stroke-width="2.8"/>
<circle cx="1160.6" cy="686.5" r="9.2" fill="#c2c8cf" fill-opacity="0.72" stroke="#000" stroke-opacity="0.72" stroke-width="2.8"/>
<circle cx="1198.1" cy="686.5" r="9.2" fill="#a187da" fill-opacity="0.72" stroke="#000" stroke-opacity="0.72" stroke-width="2.8"/>
<circle cx="1110.6" cy="695.6" r="9.2" fill="#f06d4e" fill-opacity="0.72" stroke="#000" stroke-opacity="0.72" stroke-width="2.8"/>
<circle cx="1113.1" cy="695.6" r="9.2" fill="#ef8062" fill-opacity="0.72" stroke="#000" stroke-opacity="0.72" stroke-width="2.8"/>
<circle cx="1115.6" cy="695.6" r="9.2" fill="#ed9073" fill-opacity="0.72" stroke="#000" stroke-opacity="0.72" stroke-width="2.8"/>
<circle cx="1118.1" cy="695.6" r="9.2" fill="#ea9c80" fill-opacity="0.72" stroke="#000" stroke-opacity="0.72" stroke-width="2.8"/>
<circle cx="1120.6" cy="695.6" r="9.2" fill="#e8a68b" fill-opacity="0.72" stroke="#000" stroke-opacity="0.72" stroke-width="2.8"/>
<circle cx="1123.1" cy="695.6" r="9.2" fill="#e4ae95" fill-opacity="0.72" stroke="#000" stroke-opacity="0.72" stroke-width="2.8"/>
<circle cx="1125.6" cy="695.6" r="9.2" fill="#e1b69e" fill-opacity="0.72" stroke="#000" stroke-opacity="0.72" stroke-width="2.8"/>
<circle cx="1128.1" cy="695.6" r="9.2" fill="#debea7" fill-opacity="0.72" stroke="#000" stroke-opacity="0.72" stroke-width="2.8"/>
<circle cx="1130.6" cy="695.6" r="9.2" fill="#dac4af" fill-opacity="0.72" stroke="#000" stroke-opacity="0.72" stroke-width="2.8"/>
<circle cx="1135.6" cy="695.6" r="9.2" fill="#d2d0be" fill-opacity="0.72" stroke="#000" stroke-opacity="0.72" stroke-width="2.8"/>
<circle cx="1143.1" cy="695.6" r="9.2" fill="#c7d3cd" fill-opacity="0.72" stroke="#000" stroke-opacity="0.72" stroke-width="2.8"/>
<circle cx="1150.6" cy="695.6" r="9.2" fill="#bebfd1" fill-opacity="0.72" stroke="#000" stroke-opacity="0.72" stroke-width="2.8"/>
<circle cx="1158.1" cy="695.6" r="9.2" fill="#b6add4" fill-opacity="0.72" stroke="#000" stroke-opacity="0.72" stroke-width="2.8"/>
<circle cx="1168.1" cy="695.6" r="9.2" fill="#ab98d7" fill-opacity="0.72" stroke="#000" stroke-opacity="0.72" stroke-width="2.8"/>
<circle cx="1178.1" cy="695.6" r="9.2" fill="#a086da" fill-opacity="0.72" stroke="#000" stroke-opacity="0.72" stroke-width="2.8"/>
<polygon points="1188.1,681 1175.5,702.9 1200.8,702.9" fill="#9676dc" fill-opacity="0.72" stroke="#000" stroke-opacity="0.72" stroke-width="2.8" stroke-linejoin="round"/>
<polygon points="1105.6,681 1093,702.9 1118.2,702.9" fill="#ef2f1d" fill-opacity="0.72" stroke="#000" stroke-opacity="0.72" stroke-width="2.8" stroke-linejoin="round"/>
</g>
<path d="M1140.8 320.9L1176.3 361.9" stroke="#000" stroke-width="3.6" stroke-linecap="round" fill="none"/>
<path d="M1468.4 272.7L1429.9 324.8" stroke="#000" stroke-width="3.6" stroke-linecap="round" fill="none"/>
<path d="M1350.7 396.6L1329.2 441.8" stroke="#000" stroke-width="3.6" stroke-linecap="round" fill="none"/>
<path d="M1245.8 436L1256.2 522.2" stroke="#000" stroke-width="3.6" stroke-linecap="round" fill="none"/>
<path d="M1682.6 446.5L1708.8 393.3" stroke="#000" stroke-width="3.6" stroke-linecap="round" fill="none"/>
<path d="M1150.1 510.7L1147.8 625.3" stroke="#000" stroke-width="3.6" stroke-linecap="round" fill="none"/>
<path d="M1463.7 541.2L1382.9 532" stroke="#000" stroke-width="3.6" stroke-linecap="round" fill="none"/>
<path d="M1189 594.5L1157 626.5" stroke="#000" stroke-width="3.6" stroke-linecap="round" fill="none"/>
<path d="M1357 631.1L1270.1 580.9" stroke="#000" stroke-width="3.6" stroke-linecap="round" fill="none"/>
<path d="M1125.3 689.5L1136.9 657.8" stroke="#000" stroke-width="3.6" stroke-linecap="round" fill="none"/>
<path d="M1233 705.3L1154.2 645" stroke="#000" stroke-width="3.6" stroke-linecap="round" fill="none"/>
<rect x="1092.4" y="285.4" width="80.4" height="35.5" rx="6.5" fill="#ee1812" stroke="#000" stroke-width="1.1"/>
<text x="1132.6" y="311.3" text-anchor="middle" font-size="23.4" fill="#000" stroke="#000" stroke-width="0.3">ESR1</text>
<rect x="1468.4" y="250.5" width="75.8" height="35.8" rx="6.5" fill="#e4b198" stroke="#000" stroke-width="1.1"/>
<text x="1506.3" y="276.6" text-anchor="middle" font-size="23.4" fill="#000" stroke="#000" stroke-width="0.3">TP53</text>
<rect x="1350.7" y="373.4" width="97.1" height="35.9" rx="6.5" fill="#e4b097" stroke="#000" stroke-width="1.1"/>
<text x="1399.2" y="399.6" text-anchor="middle" font-size="23.4" fill="#000" stroke="#000" stroke-width="0.3">FGFR1</text>
<rect x="1209.4" y="399.6" width="71.8" height="36.4" rx="6.5" fill="#e4b097" stroke="#000" stroke-width="1.1"/>
<text x="1245.3" y="426" text-anchor="middle" font-size="23.4" fill="#000" stroke="#000" stroke-width="0.3">MYC</text>
<rect x="1578.6" y="432.2" width="104" height="35.9" rx="6.5" fill="#b4aad4" stroke="#000" stroke-width="1.1"/>
<text x="1630.6" y="458.3" text-anchor="middle" font-size="23.4" fill="#000" stroke="#000" stroke-width="0.3">PIK3CA</text>
<rect x="1092.4" y="474.7" width="115.1" height="36" rx="6.5" fill="#f07a5b" stroke="#000" stroke-width="1.1"/>
<text x="1150" y="500.9" text-anchor="middle" font-size="23.4" fill="#000" stroke="#000" stroke-width="0.3">CDKN2A</text>
<rect x="1463.7" y="523.9" width="100.2" height="35.9" rx="6.5" fill="#c5cece" stroke="#000" stroke-width="1.1"/>
<text x="1513.8" y="550" text-anchor="middle" font-size="23.4" fill="#000" stroke="#000" stroke-width="0.3">CCND1</text>
<rect x="1157.3" y="558.6" width="85.7" height="35.9" rx="6.5" fill="#ef7f60" stroke="#000" stroke-width="1.1"/>
<text x="1200.2" y="584.8" text-anchor="middle" font-size="23.4" fill="#000" stroke="#000" stroke-width="0.3">GNAS</text>
<rect x="1357" y="614.2" width="82.2" height="35.9" rx="6.5" fill="#d5ccb8" stroke="#000" stroke-width="1.1"/>
<text x="1398.1" y="640.4" text-anchor="middle" font-size="23.4" fill="#000" stroke="#000" stroke-width="0.3">PTEN</text>
<rect x="1092.4" y="689.5" width="64.9" height="35.9" rx="6.5" fill="#f07a5b" stroke="#000" stroke-width="1.1"/>
<text x="1124.8" y="715.7" text-anchor="middle" font-size="23.4" fill="#000" stroke="#000" stroke-width="0.3">RB1</text>
<rect x="1233" y="689.5" width="78.3" height="35.9" rx="6.5" fill="#ef7f60" stroke="#000" stroke-width="1.1"/>
<text x="1272.2" y="715.7" text-anchor="middle" font-size="23.4" fill="#000" stroke="#000" stroke-width="0.3">AKT1</text>
<rect x="1055.5" y="96.9" width="850.4" height="664.9" fill="none" stroke="#333" stroke-width="1.8"/>
<path d="M1105.6 761.8v9M1055.5 723h-9M1359.7 761.8v9M1055.5 524.2h-9M1613.8 761.8v9M1055.5 325.5h-9M1867.9 761.8v9M1055.5 126.7h-9" stroke="#333" stroke-width="3.5" fill="none"/>
<text x="1105.6" y="793.1" text-anchor="middle" font-size="25.2" fill="#4d4d4d">0</text>
<text x="1042" y="732" text-anchor="end" font-size="25.2" fill="#4d4d4d">0</text>
<text x="1359.7" y="793.1" text-anchor="middle" font-size="25.2" fill="#4d4d4d">20</text>
<text x="1042" y="533.2" text-anchor="end" font-size="25.2" fill="#4d4d4d">20</text>
<text x="1613.8" y="793.1" text-anchor="middle" font-size="25.2" fill="#4d4d4d">40</text>
<text x="1042" y="334.5" text-anchor="end" font-size="25.2" fill="#4d4d4d">40</text>
<text x="1867.9" y="793.1" text-anchor="middle" font-size="25.2" fill="#4d4d4d">60</text>
<text x="1042" y="135.7" text-anchor="end" font-size="25.2" fill="#4d4d4d">60</text>
<text x="1502.7" y="825.4" text-anchor="middle" font-size="31.3" fill="#000" class="k">Median prevalence pre−treatment (%)</text>
<text transform="translate(1002.3 407.3) rotate(-90)" text-anchor="middle" font-size="31.45" fill="#000" class="k">Median prevalence post−treatment (%)</text>
<text x="1055" y="33" font-size="38.5" fill="#000" class="k">Alteration prevalence for the AI+CDK4/6i cohort</text>
<text x="1054" y="75.4" font-size="31.6" fill="#000" class="k">Cohort size: 508 pre- vs. 109 post-treatment</text>
<text x="984" y="46" font-size="61" font-weight="bold" fill="#000" class="k">b</text>
</g>
<g id="panel-c">
<clipPath id="clipc"><rect x="91.5" y="1051.3" width="850.6" height="664.9"/></clipPath>
<g clip-path="url(#clipc)">
<path d="M269.1 1051.3V1716.2M91.5 1577.5H942.1M523 1051.3V1716.2M91.5 1378.8H942.1M776.9 1051.3V1716.2M91.5 1180H942.1" stroke="#ebebeb" stroke-width="1.8" fill="none"/>
<path d="M142.1 1051.3V1716.2M91.5 1676.9H942.1M396 1051.3V1716.2M91.5 1478.1H942.1M650 1051.3V1716.2M91.5 1279.4H942.1M903.9 1051.3V1716.2M91.5 1080.6H942.1" stroke="#ebebeb" stroke-width="3.5" fill="none"/>
<path d="M74.5 1729.5L959.1 1038" stroke="#000" stroke-width="3.9" fill="none"/>
<path d="M691.4 1264.4a10.2 10.2 0 1 0 20.4 0a10.2 10.2 0 1 0 -20.4 0ZM476.2 1283.1a10.2 10.2 0 1 0 20.4 0a10.2 10.2 0 1 0 -20.4 0ZM420.3 1358.1a10.2 10.2 0 1 0 20.4 0a10.2 10.2 0 1 0 -20.4 0ZM437.5 1358.1a10.2 10.2 0 1 0 20.4 0a10.2 10.2 0 1 0 -20.4 0ZM398.8 1376.9a10.2 10.2 0 1 0 20.4 0a10.2 10.2 0 1 0 -20.4 0ZM398.8 1395.6a10.2 10.2 0 1 0 20.4 0a10.2 10.2 0 1 0 -20.4 0ZM381.5 1433.1a10.2 10.2 0 1 0 20.4 0a10.2 10.2 0 1 0 -20.4 0ZM416 1433.1a10.2 10.2 0 1 0 20.4 0a10.2 10.2 0 1 0 -20.4 0ZM385.8 1470.6a10.2 10.2 0 1 0 20.4 0a10.2 10.2 0 1 0 -20.4 0ZM390.1 1470.6a10.2 10.2 0 1 0 20.4 0a10.2 10.2 0 1 0 -20.4 0ZM355.7 1470.6a10.2 10.2 0 1 0 20.4 0a10.2 10.2 0 1 0 -20.4 0ZM286.8 1489.4a10.2 10.2 0 1 0 20.4 0a10.2 10.2 0 1 0 -20.4 0ZM308.4 1508.1a10.2 10.2 0 1 0 20.4 0a10.2 10.2 0 1 0 -20.4 0ZM192.2 1545.6a10.2 10.2 0 1 0 20.4 0a10.2 10.2 0 1 0 -20.4 0ZM248.1 1564.4a10.2 10.2 0 1 0 20.4 0a10.2 10.2 0 1 0 -20.4 0ZM265.3 1564.4a10.2 10.2 0 1 0 20.4 0a10.2 10.2 0 1 0 -20.4 0ZM196.5 1583.1a10.2 10.2 0 1 0 20.4 0a10.2 10.2 0 1 0 -20.4 0ZM200.8 1583.1a10.2 10.2 0 1 0 20.4 0a10.2 10.2 0 1 0 -20.4 0ZM205.1 1583.1a10.2 10.2 0 1 0 20.4 0a10.2 10.2 0 1 0 -20.4 0ZM209.4 1583.1a10.2 10.2 0 1 0 20.4 0a10.2 10.2 0 1 0 -20.4 0ZM235.2 1583.1a10.2 10.2 0 1 0 20.4 0a10.2 10.2 0 1 0 -20.4 0ZM248.1 1583.1a10.2 10.2 0 1 0 20.4 0a10.2 10.2 0 1 0 -20.4 0ZM174.9 1601.9a10.2 10.2 0 1 0 20.4 0a10.2 10.2 0 1 0 -20.4 0ZM192.2 1601.9a10.2 10.2 0 1 0 20.4 0a10.2 10.2 0 1 0 -20.4 0ZM157.7 1620.6a10.2 10.2 0 1 0 20.4 0a10.2 10.2 0 1 0 -20.4 0ZM166.3 1620.6a10.2 10.2 0 1 0 20.4 0a10.2 10.2 0 1 0 -20.4 0ZM170.6 1620.6a10.2 10.2 0 1 0 20.4 0a10.2 10.2 0 1 0 -20.4 0ZM183.5 1620.6a10.2 10.2 0 1 0 20.4 0a10.2 10.2 0 1 0 -20.4 0ZM196.5 1620.6a10.2 10.2 0 1 0 20.4 0a10.2 10.2 0 1 0 -20.4 0ZM200.8 1620.6a10.2 10.2 0 1 0 20.4 0a10.2 10.2 0 1 0 -20.4 0ZM239.5 1620.6a10.2 10.2 0 1 0 20.4 0a10.2 10.2 0 1 0 -20.4 0ZM131.9 1639.4a10.2 10.2 0 1 0 20.4 0a10.2 10.2 0 1 0 -20.4 0ZM136.2 1639.4a10.2 10.2 0 1 0 20.4 0a10.2 10.2 0 1 0 -20.4 0ZM140.5 1639.4a10.2 10.2 0 1 0 20.4 0a10.2 10.2 0 1 0 -20.4 0ZM144.8 1639.4a10.2 10.2 0 1 0 20.4 0a10.2 10.2 0 1 0 -20.4 0ZM149.1 1639.4a10.2 10.2 0 1 0 20.4 0a10.2 10.2 0 1 0 -20.4 0ZM153.4 1639.4a10.2 10.2 0 1 0 20.4 0a10.2 10.2 0 1 0 -20.4 0ZM157.7 1639.4a10.2 10.2 0 1 0 20.4 0a10.2 10.2 0 1 0 -20.4 0ZM162 1639.4a10.2 10.2 0 1 0 20.4 0a10.2 10.2 0 1 0 -20.4 0ZM166.3 1639.4a10.2 10.2 0 1 0 20.4 0a10.2 10.2 0 1 0 -20.4 0ZM174.9 1639.4a10.2 10.2 0 1 0 20.4 0a10.2 10.2 0 1 0 -20.4 0ZM179.2 1639.4a10.2 10.2 0 1 0 20.4 0a10.2 10.2 0 1 0 -20.4 0ZM183.5 1639.4a10.2 10.2 0 1 0 20.4 0a10.2 10.2 0 1 0 -20.4 0ZM187.9 1639.4a10.2 10.2 0 1 0 20.4 0a10.2 10.2 0 1 0 -20.4 0ZM222.3 1639.4a10.2 10.2 0 1 0 20.4 0a10.2 10.2 0 1 0 -20.4 0ZM239.5 1639.4a10.2 10.2 0 1 0 20.4 0a10.2 10.2 0 1 0 -20.4 0ZM187.9 1658.1a10.2 10.2 0 1 0 20.4 0a10.2 10.2 0 1 0 -20.4 0ZM200.8 1658.1a10.2 10.2 0 1 0 20.4 0a10.2 10.2 0 1 0 -20.4 0ZM218 1658.1a10.2 10.2 0 1 0 20.4 0a10.2 10.2 0 1 0 -20.4 0ZM230.9 1658.1a10.2 10.2 0 1 0 20.4 0a10.2 10.2 0 1 0 -20.4 0ZM176.5 1660.7L162.5 1685H190.6ZM180.8 1660.7L166.8 1685H194.9ZM206.7 1660.7L192.6 1685H220.7Z" fill="#fff" stroke="none"/>
<path d="M628.5 1264.4H774.8M701.6 1133.1V1395.6" stroke="#c7d2cd" stroke-width="3.7" stroke-opacity="1" fill="none"/>
<path d="M421.9 1283.1H551M486.4 1151.9V1414.4" stroke="#e1b79f" stroke-width="3.7" stroke-opacity="1" fill="none"/>
<path d="M370.2 1358.1H490.7M430.5 1226.9V1470.6" stroke="#dfbba3" stroke-width="3.7" stroke-opacity="1" fill="none"/>
<path d="M387.4 1358.1H512.2M447.7 1226.9V1470.6" stroke="#dcc0aa" stroke-width="3.7" stroke-opacity="1" fill="none"/>
<path d="M353 1376.9H469.2M409 1245.6V1489.4" stroke="#e0b9a2" stroke-width="3.7" stroke-opacity="1" fill="none"/>
<path d="M353 1395.6H469.2M409 1264.4V1508.1" stroke="#ddbfa9" stroke-width="3.7" stroke-opacity="1" fill="none"/>
<path d="M335.8 1433.1H452M391.7 1320.6V1545.6" stroke="#d9c7b2" stroke-width="3.7" stroke-opacity="1" fill="none"/>
<path d="M365.9 1433.1H486.4M426.2 1320.6V1545.6" stroke="#d1d2c0" stroke-width="3.7" stroke-opacity="1" fill="none"/>
<path d="M340.1 1470.6H456.3M396 1358.1V1564.4" stroke="#cdd8c7" stroke-width="3.7" stroke-opacity="1" fill="none"/>
<path d="M344.4 1470.6H460.6M400.3 1358.1V1564.4" stroke="#ccd9c9" stroke-width="3.7" stroke-opacity="1" fill="none"/>
<path d="M314.3 1470.6H421.9M365.9 1358.1V1564.4" stroke="#dcc0aa" stroke-width="3.7" stroke-opacity="1" fill="none"/>
<path d="M249.7 1489.4H344.4M297 1376.9V1583.1" stroke="#e2b39b" stroke-width="3.7" stroke-opacity="1" fill="none"/>
<path d="M271.2 1508.1H370.2M318.6 1395.6V1601.9" stroke="#d7c9b4" stroke-width="3.7" stroke-opacity="1" fill="none"/>
<path d="M172.2 1545.6H236.8M202.4 1451.9V1620.6" stroke="#f07a5b" stroke-width="3.7" stroke-opacity="1" fill="none"/>
<path d="M219.6 1564.4H301.4M258.3 1470.6V1639.4" stroke="#d7c8b4" stroke-width="3.7" stroke-opacity="1" fill="none"/>
<path d="M232.5 1564.4H322.9M275.5 1470.6V1639.4" stroke="#cfd4c3" stroke-width="3.7" stroke-opacity="1" fill="none"/>
<path d="M176.5 1583.1H241.1M206.7 1508.1V1658.1" stroke="#e7a68b" stroke-width="3.7" stroke-opacity="1" fill="none"/>
<path d="M180.8 1583.1H245.4M211 1508.1V1658.1" stroke="#e6ab92" stroke-width="3.7" stroke-opacity="1" fill="none"/>
<path d="M185.1 1583.1H249.7M215.3 1508.1V1658.1" stroke="#e3b198" stroke-width="3.7" stroke-opacity="1" fill="none"/>
<path d="M185.1 1583.1H254M219.6 1508.1V1658.1" stroke="#e1b59d" stroke-width="3.7" stroke-opacity="1" fill="none"/>
<path d="M206.7 1583.1H288.4M245.4 1508.1V1658.1" stroke="#d4cebb" stroke-width="3.7" stroke-opacity="1" fill="none"/>
<path d="M219.6 1583.1H301.4M258.3 1508.1V1658.1" stroke="#ccd8c8" stroke-width="3.7" stroke-opacity="1" fill="none"/>
<path d="M159.3 1601.9H211M185.1 1526.9V1658.1" stroke="#eb997d" stroke-width="3.7" stroke-opacity="1" fill="none"/>
<path d="M172.2 1601.9H236.8M202.4 1526.9V1658.1" stroke="#e2b49c" stroke-width="3.7" stroke-opacity="1" fill="none"/>
<path d="M150.7 1620.6H189.4M167.9 1545.6V1676.9" stroke="#ee8a6c" stroke-width="3.7" stroke-opacity="1" fill="none"/>
<path d="M155 1620.6H202.4M176.5 1545.6V1676.9" stroke="#e9a186" stroke-width="3.7" stroke-opacity="1" fill="none"/>
<path d="M159.3 1620.6H206.7M180.8 1545.6V1676.9" stroke="#e6aa90" stroke-width="3.7" stroke-opacity="1" fill="none"/>
<path d="M167.9 1620.6H223.9M193.7 1545.6V1676.9" stroke="#dcc0aa" stroke-width="3.7" stroke-opacity="1" fill="none"/>
<path d="M176.5 1620.6H241.1M206.7 1545.6V1676.9" stroke="#d1d2c0" stroke-width="3.7" stroke-opacity="1" fill="none"/>
<path d="M180.8 1620.6H245.4M211 1545.6V1676.9" stroke="#cdd8c7" stroke-width="3.7" stroke-opacity="1" fill="none"/>
<path d="M211 1620.6H292.7M249.7 1545.6V1676.9" stroke="#b3a7d5" stroke-width="3.7" stroke-opacity="1" fill="none"/>
<path d="M142.1 1583.1V1676.9" stroke="#ee1812" stroke-width="3.7" stroke-opacity="1" fill="none"/>
<path d="M142.1 1639.4H155M146.4 1583.1V1676.9" stroke="#f03c25" stroke-width="3.7" stroke-opacity="1" fill="none"/>
<path d="M142.1 1639.4H163.6M150.7 1583.1V1676.9" stroke="#f16546" stroke-width="3.7" stroke-opacity="1" fill="none"/>
<path d="M142.1 1639.4H172.2M155 1583.1V1676.9" stroke="#ef8061" stroke-width="3.7" stroke-opacity="1" fill="none"/>
<path d="M146.4 1639.4H176.5M159.3 1583.1V1676.9" stroke="#ec9478" stroke-width="3.7" stroke-opacity="1" fill="none"/>
<path d="M146.4 1639.4H185.1M163.6 1583.1V1676.9" stroke="#e9a388" stroke-width="3.7" stroke-opacity="1" fill="none"/>
<path d="M150.7 1639.4H189.4M167.9 1583.1V1676.9" stroke="#e4af95" stroke-width="3.7" stroke-opacity="1" fill="none"/>
<path d="M150.7 1639.4H198.1M172.2 1583.1V1676.9" stroke="#e0b9a2" stroke-width="3.7" stroke-opacity="1" fill="none"/>
<path d="M155 1639.4H202.4M176.5 1583.1V1676.9" stroke="#dbc3ad" stroke-width="3.7" stroke-opacity="1" fill="none"/>
<path d="M159.3 1639.4H211M185.1 1583.1V1676.9" stroke="#d0d3c1" stroke-width="3.7" stroke-opacity="1" fill="none"/>
<path d="M163.6 1639.4H219.6M189.4 1583.1V1676.9" stroke="#cbdaca" stroke-width="3.7" stroke-opacity="1" fill="none"/>
<path d="M167.9 1639.4H223.9M193.7 1583.1V1676.9" stroke="#c7d2cd" stroke-width="3.7" stroke-opacity="1" fill="none"/>
<path d="M172.2 1639.4H228.2M198.1 1583.1V1676.9" stroke="#c3c9cf" stroke-width="3.7" stroke-opacity="1" fill="none"/>
<path d="M198.1 1639.4H271.2M232.5 1583.1V1676.9" stroke="#a58ed9" stroke-width="3.7" stroke-opacity="1" fill="none"/>
<path d="M211 1639.4H292.7M249.7 1583.1V1676.9" stroke="#9777dc" stroke-width="3.7" stroke-opacity="1" fill="none"/>
<path d="M172.2 1658.1H228.2M198.1 1620.6V1676.9" stroke="#9c80db" stroke-width="3.7" stroke-opacity="1" fill="none"/>
<path d="M180.8 1658.1H245.4M211 1620.6V1676.9" stroke="#8b68dd" stroke-width="3.7" stroke-opacity="1" fill="none"/>
<path d="M193.7 1658.1H266.9M228.2 1620.6V1676.9" stroke="#744fdf" stroke-width="3.7" stroke-opacity="1" fill="none"/>
<path d="M202.4 1658.1H279.8M241.1 1620.6V1676.9" stroke="#623ee0" stroke-width="3.7" stroke-opacity="1" fill="none"/>
<path d="M155 1676.9H202.4" stroke="#3a20e2" stroke-width="3.7" stroke-opacity="1" fill="none"/>
<path d="M159.3 1676.9H206.7" stroke="#1e10e2" stroke-width="3.7" stroke-opacity="1" fill="none"/>
<path d="M176.5 1676.9H241.1" stroke="#1e10e2" stroke-width="3.7" stroke-opacity="1" fill="none"/>
<circle cx="701.6" cy="1264.4" r="9.2" fill="#c7d2cd" fill-opacity="0.72" stroke="#000" stroke-opacity="0.72" stroke-width="2.8"/>
<circle cx="486.4" cy="1283.1" r="9.2" fill="#e1b79f" fill-opacity="0.72" stroke="#000" stroke-opacity="0.72" stroke-width="2.8"/>
<circle cx="430.5" cy="1358.1" r="9.2" fill="#dfbba3" fill-opacity="0.72" stroke="#000" stroke-opacity="0.72" stroke-width="2.8"/>
<circle cx="447.7" cy="1358.1" r="9.2" fill="#dcc0aa" fill-opacity="0.72" stroke="#000" stroke-opacity="0.72" stroke-width="2.8"/>
<circle cx="409" cy="1376.9" r="9.2" fill="#e0b9a2" fill-opacity="0.72" stroke="#000" stroke-opacity="0.72" stroke-width="2.8"/>
<circle cx="409" cy="1395.6" r="9.2" fill="#ddbfa9" fill-opacity="0.72" stroke="#000" stroke-opacity="0.72" stroke-width="2.8"/>
<circle cx="391.7" cy="1433.1" r="9.2" fill="#d9c7b2" fill-opacity="0.72" stroke="#000" stroke-opacity="0.72" stroke-width="2.8"/>
<circle cx="426.2" cy="1433.1" r="9.2" fill="#d1d2c0" fill-opacity="0.72" stroke="#000" stroke-opacity="0.72" stroke-width="2.8"/>
<circle cx="396" cy="1470.6" r="9.2" fill="#cdd8c7" fill-opacity="0.72" stroke="#000" stroke-opacity="0.72" stroke-width="2.8"/>
<circle cx="400.3" cy="1470.6" r="9.2" fill="#ccd9c9" fill-opacity="0.72" stroke="#000" stroke-opacity="0.72" stroke-width="2.8"/>
<circle cx="365.9" cy="1470.6" r="9.2" fill="#dcc0aa" fill-opacity="0.72" stroke="#000" stroke-opacity="0.72" stroke-width="2.8"/>
<circle cx="297" cy="1489.4" r="9.2" fill="#e2b39b" fill-opacity="0.72" stroke="#000" stroke-opacity="0.72" stroke-width="2.8"/>
<circle cx="318.6" cy="1508.1" r="9.2" fill="#d7c9b4" fill-opacity="0.72" stroke="#000" stroke-opacity="0.72" stroke-width="2.8"/>
<circle cx="202.4" cy="1545.6" r="9.2" fill="#f07a5b" fill-opacity="0.72" stroke="#000" stroke-opacity="0.72" stroke-width="2.8"/>
<circle cx="258.3" cy="1564.4" r="9.2" fill="#d7c8b4" fill-opacity="0.72" stroke="#000" stroke-opacity="0.72" stroke-width="2.8"/>
<circle cx="275.5" cy="1564.4" r="9.2" fill="#cfd4c3" fill-opacity="0.72" stroke="#000" stroke-opacity="0.72" stroke-width="2.8"/>
<circle cx="206.7" cy="1583.1" r="9.2" fill="#e7a68b" fill-opacity="0.72" stroke="#000" stroke-opacity="0.72" stroke-width="2.8"/>
<circle cx="211" cy="1583.1" r="9.2" fill="#e6ab92" fill-opacity="0.72" stroke="#000" stroke-opacity="0.72" stroke-width="2.8"/>
<circle cx="215.3" cy="1583.1" r="9.2" fill="#e3b198" fill-opacity="0.72" stroke="#000" stroke-opacity="0.72" stroke-width="2.8"/>
<circle cx="219.6" cy="1583.1" r="9.2" fill="#e1b59d" fill-opacity="0.72" stroke="#000" stroke-opacity="0.72" stroke-width="2.8"/>
<circle cx="245.4" cy="1583.1" r="9.2" fill="#d4cebb" fill-opacity="0.72" stroke="#000" stroke-opacity="0.72" stroke-width="2.8"/>
<circle cx="258.3" cy="1583.1" r="9.2" fill="#ccd8c8" fill-opacity="0.72" stroke="#000" stroke-opacity="0.72" stroke-width="2.8"/>
<circle cx="185.1" cy="1601.9" r="9.2" fill="#eb997d" fill-opacity="0.72" stroke="#000" stroke-opacity="0.72" stroke-width="2.8"/>
<circle cx="202.4" cy="1601.9" r="9.2" fill="#e2b49c" fill-opacity="0.72" stroke="#000" stroke-opacity="0.72" stroke-width="2.8"/>
<circle cx="167.9" cy="1620.6" r="9.2" fill="#ee8a6c" fill-opacity="0.72" stroke="#000" stroke-opacity="0.72" stroke-width="2.8"/>
<circle cx="176.5" cy="1620.6" r="9.2" fill="#e9a186" fill-opacity="0.72" stroke="#000" stroke-opacity="0.72" stroke-width="2.8"/>
<circle cx="180.8" cy="1620.6" r="9.2" fill="#e6aa90" fill-opacity="0.72" stroke="#000" stroke-opacity="0.72" stroke-width="2.8"/>
<circle cx="193.7" cy="1620.6" r="9.2" fill="#dcc0aa" fill-opacity="0.72" stroke="#000" stroke-opacity="0.72" stroke-width="2.8"/>
<circle cx="206.7" cy="1620.6" r="9.2" fill="#d1d2c0" fill-opacity="0.72" stroke="#000" stroke-opacity="0.72" stroke-width="2.8"/>
<circle cx="211" cy="1620.6" r="9.2" fill="#cdd8c7" fill-opacity="0.72" stroke="#000" stroke-opacity="0.72" stroke-width="2.8"/>
<circle cx="249.7" cy="1620.6" r="9.2" fill="#b3a7d5" fill-opacity="0.72" stroke="#000" stroke-opacity="0.72" stroke-width="2.8"/>
<circle cx="142.1" cy="1639.4" r="9.2" fill="#ee1812" fill-opacity="0.72" stroke="#000" stroke-opacity="0.72" stroke-width="2.8"/>
<circle cx="146.4" cy="1639.4" r="9.2" fill="#f03c25" fill-opacity="0.72" stroke="#000" stroke-opacity="0.72" stroke-width="2.8"/>
<circle cx="150.7" cy="1639.4" r="9.2" fill="#f16546" fill-opacity="0.72" stroke="#000" stroke-opacity="0.72" stroke-width="2.8"/>
<circle cx="155" cy="1639.4" r="9.2" fill="#ef8061" fill-opacity="0.72" stroke="#000" stroke-opacity="0.72" stroke-width="2.8"/>
<circle cx="159.3" cy="1639.4" r="9.2" fill="#ec9478" fill-opacity="0.72" stroke="#000" stroke-opacity="0.72" stroke-width="2.8"/>
<circle cx="163.6" cy="1639.4" r="9.2" fill="#e9a388" fill-opacity="0.72" stroke="#000" stroke-opacity="0.72" stroke-width="2.8"/>
<circle cx="167.9" cy="1639.4" r="9.2" fill="#e4af95" fill-opacity="0.72" stroke="#000" stroke-opacity="0.72" stroke-width="2.8"/>
<circle cx="172.2" cy="1639.4" r="9.2" fill="#e0b9a2" fill-opacity="0.72" stroke="#000" stroke-opacity="0.72" stroke-width="2.8"/>
<circle cx="176.5" cy="1639.4" r="9.2" fill="#dbc3ad" fill-opacity="0.72" stroke="#000" stroke-opacity="0.72" stroke-width="2.8"/>
<circle cx="185.1" cy="1639.4" r="9.2" fill="#d0d3c1" fill-opacity="0.72" stroke="#000" stroke-opacity="0.72" stroke-width="2.8"/>
<circle cx="189.4" cy="1639.4" r="9.2" fill="#cbdaca" fill-opacity="0.72" stroke="#000" stroke-opacity="0.72" stroke-width="2.8"/>
<circle cx="193.7" cy="1639.4" r="9.2" fill="#c7d2cd" fill-opacity="0.72" stroke="#000" stroke-opacity="0.72" stroke-width="2.8"/>
<circle cx="198.1" cy="1639.4" r="9.2" fill="#c3c9cf" fill-opacity="0.72" stroke="#000" stroke-opacity="0.72" stroke-width="2.8"/>
<circle cx="232.5" cy="1639.4" r="9.2" fill="#a58ed9" fill-opacity="0.72" stroke="#000" stroke-opacity="0.72" stroke-width="2.8"/>
<circle cx="249.7" cy="1639.4" r="9.2" fill="#9777dc" fill-opacity="0.72" stroke="#000" stroke-opacity="0.72" stroke-width="2.8"/>
<circle cx="198.1" cy="1658.1" r="9.2" fill="#9c80db" fill-opacity="0.72" stroke="#000" stroke-opacity="0.72" stroke-width="2.8"/>
<circle cx="211" cy="1658.1" r="9.2" fill="#8b68dd" fill-opacity="0.72" stroke="#000" stroke-opacity="0.72" stroke-width="2.8"/>
<circle cx="228.2" cy="1658.1" r="9.2" fill="#744fdf" fill-opacity="0.72" stroke="#000" stroke-opacity="0.72" stroke-width="2.8"/>
<circle cx="241.1" cy="1658.1" r="9.2" fill="#623ee0" fill-opacity="0.72" stroke="#000" stroke-opacity="0.72" stroke-width="2.8"/>
<polygon points="176.5,1662.3 163.9,1684.2 189.2,1684.2" fill="#3a20e2" fill-opacity="0.72" stroke="#000" stroke-opacity="0.72" stroke-width="2.8" stroke-linejoin="round"/>
<polygon points="180.8,1662.3 168.2,1684.2 193.5,1684.2" fill="#1e10e2" fill-opacity="0.72" stroke="#000" stroke-opacity="0.72" stroke-width="2.8" stroke-linejoin="round"/>
<polygon points="206.7,1662.3 194,1684.2 219.3,1684.2" fill="#1e10e2" fill-opacity="0.72" stroke="#000" stroke-opacity="0.72" stroke-width="2.8" stroke-linejoin="round"/>
</g>
<path d="M528.8 1223.4L490.6 1276.9" stroke="#000" stroke-width="3.6" stroke-linecap="round" fill="none"/>
<path d="M732 1326.3L704.7 1271.8" stroke="#000" stroke-width="3.6" stroke-linecap="round" fill="none"/>
<path d="M501.1 1346.9L457.6 1355.6" stroke="#000" stroke-width="3.6" stroke-linecap="round" fill="none"/>
<path d="M275.5 1366L383.8 1429.4" stroke="#000" stroke-width="3.6" stroke-linecap="round" fill="none"/>
<path d="M607.9 1459L435.9 1434.1" stroke="#000" stroke-width="3.6" stroke-linecap="round" fill="none"/>
<path d="M174.1 1537.6L205.7 1576.9" stroke="#000" stroke-width="3.6" stroke-linecap="round" fill="none"/>
<path d="M449.8 1561.1L285.6 1564.6" stroke="#000" stroke-width="3.6" stroke-linecap="round" fill="none"/>
<path d="M289.8 1660.9L250.1 1658.5" stroke="#000" stroke-width="3.6" stroke-linecap="round" fill="none"/>
<path d="M595.2 1661.2L228.6 1584.9" stroke="#000" stroke-width="3.6" stroke-linecap="round" fill="none"/>
<rect x="528.8" y="1202.3" width="75.8" height="36.2" rx="6.5" fill="#e1b79f" stroke="#000" stroke-width="1.1"/>
<text x="566.7" y="1228.6" text-anchor="middle" font-size="23.4" fill="#000" stroke="#000" stroke-width="0.3">TP53</text>
<rect x="732" y="1310.7" width="103.7" height="35.9" rx="6.5" fill="#c7d2cd" stroke="#000" stroke-width="1.1"/>
<text x="783.9" y="1336.9" text-anchor="middle" font-size="23.4" fill="#000" stroke="#000" stroke-width="0.3">PIK3CA</text>
<rect x="501.1" y="1329.5" width="100.2" height="36" rx="6.5" fill="#dcc0aa" stroke="#000" stroke-width="1.1"/>
<text x="551.2" y="1355.7" text-anchor="middle" font-size="23.4" fill="#000" stroke="#000" stroke-width="0.3">CCND1</text>
<rect x="178.5" y="1347.3" width="97.1" height="36" rx="6.5" fill="#d9c7b2" stroke="#000" stroke-width="1.1"/>
<text x="227.1" y="1373.5" text-anchor="middle" font-size="23.4" fill="#000" stroke="#000" stroke-width="0.3">FGFR1</text>
<rect x="607.8" y="1441.2" width="80.6" height="35.9" rx="6.5" fill="#d1d2c0" stroke="#000" stroke-width="1.1"/>
<text x="648.1" y="1467.4" text-anchor="middle" font-size="23.4" fill="#000" stroke="#000" stroke-width="0.3">ESR1</text>
<rect x="322.5" y="1459" width="71.4" height="35.9" rx="6.5" fill="#dcc0aa" stroke="#000" stroke-width="1.1"/>
<text x="358.2" y="1485.2" text-anchor="middle" font-size="23.4" fill="#000" stroke="#000" stroke-width="0.3">MYC</text>
<rect x="128.3" y="1501.3" width="78.5" height="36.3" rx="6.5" fill="#e7a68b" stroke="#000" stroke-width="1.1"/>
<text x="167.6" y="1527.6" text-anchor="middle" font-size="23.4" fill="#000" stroke="#000" stroke-width="0.3">AKT1</text>
<rect x="449.8" y="1543.8" width="82.5" height="35.9" rx="6.5" fill="#cfd4c3" stroke="#000" stroke-width="1.1"/>
<text x="491" y="1570" text-anchor="middle" font-size="23.4" fill="#000" stroke="#000" stroke-width="0.3">PTEN</text>
<rect x="128.3" y="1643.6" width="65.3" height="35.7" rx="6.5" fill="#ec967a" stroke="#000" stroke-width="1.1"/>
<text x="160.9" y="1669.6" text-anchor="middle" font-size="23.4" fill="#000" stroke="#000" stroke-width="0.3">RB1</text>
<rect x="289.4" y="1643.4" width="115.3" height="35.9" rx="6.5" fill="#623ee0" stroke="#000" stroke-width="1.1"/>
<text x="347" y="1669.5" text-anchor="middle" font-size="23.4" fill="#000" stroke="#000" stroke-width="0.3">CDKN2A</text>
<rect x="595.2" y="1643.4" width="86.1" height="35.9" rx="6.5" fill="#e1b59d" stroke="#000" stroke-width="1.1"/>
<text x="638.2" y="1669.5" text-anchor="middle" font-size="23.4" fill="#000" stroke="#000" stroke-width="0.3">GNAS</text>
<rect x="91.5" y="1051.3" width="850.6" height="664.9" fill="none" stroke="#333" stroke-width="1.8"/>
<path d="M142.1 1716.2v9M91.5 1676.9h-9M396 1716.2v9M91.5 1478.1h-9M650 1716.2v9M91.5 1279.4h-9M903.9 1716.2v9M91.5 1080.6h-9" stroke="#333" stroke-width="3.5" fill="none"/>
<text x="142.1" y="1747.5" text-anchor="middle" font-size="25.2" fill="#4d4d4d">0</text>
<text x="78" y="1685.9" text-anchor="end" font-size="25.2" fill="#4d4d4d">0</text>
<text x="396" y="1747.5" text-anchor="middle" font-size="25.2" fill="#4d4d4d">20</text>
<text x="78" y="1487.1" text-anchor="end" font-size="25.2" fill="#4d4d4d">20</text>
<text x="650" y="1747.5" text-anchor="middle" font-size="25.2" fill="#4d4d4d">40</text>
<text x="78" y="1288.4" text-anchor="end" font-size="25.2" fill="#4d4d4d">40</text>
<text x="903.9" y="1747.5" text-anchor="middle" font-size="25.2" fill="#4d4d4d">60</text>
<text x="78" y="1089.6" text-anchor="end" font-size="25.2" fill="#4d4d4d">60</text>
<text x="538.8" y="1779.8" text-anchor="middle" font-size="31.3" fill="#000" class="k">Median prevalence pre−treatment (%)</text>
<text transform="translate(38.3 1361.8) rotate(-90)" text-anchor="middle" font-size="31.45" fill="#000" class="k">Median prevalence post−treatment (%)</text>
<text x="91" y="987.4" font-size="38.5" fill="#000" class="k">Alteration prevalence for the fulv+CDK4/6i cohort</text>
<text x="90" y="1029.8" font-size="31.6" fill="#000" class="k">Cohort size: 295 pre- vs. 53 post-treatment</text>
<text x="0" y="987.5" font-size="61" font-weight="bold" fill="#000" class="k">c</text>
</g>
<g id="panel-d">
<clipPath id="clipd"><rect x="1054.2" y="1050.6" width="852.1" height="665.6"/></clipPath>
<g clip-path="url(#clipd)">
<path d="M1232.6 1050.6V1716.2M1054.2 1577.5H1906.3M1486.8 1050.6V1716.2M1054.2 1378.8H1906.3M1740.8 1050.6V1716.2M1054.2 1180H1906.3" stroke="#ebebeb" stroke-width="1.8" fill="none"/>
<path d="M1105.6 1050.6V1716.2M1054.2 1676.9H1906.3M1359.7 1050.6V1716.2M1054.2 1478.1H1906.3M1613.8 1050.6V1716.2M1054.2 1279.4H1906.3M1867.9 1050.6V1716.2M1054.2 1080.6H1906.3" stroke="#ebebeb" stroke-width="3.5" fill="none"/>
<path d="M1037.2 1729.5L1923.3 1037.3" stroke="#000" stroke-width="3.9" fill="none"/>
<path d="M1833.5 1089a10.2 10.2 0 1 0 20.4 0a10.2 10.2 0 1 0 -20.4 0ZM1444.9 1341a10.2 10.2 0 1 0 20.4 0a10.2 10.2 0 1 0 -20.4 0ZM1291.4 1578.9a10.2 10.2 0 1 0 20.4 0a10.2 10.2 0 1 0 -20.4 0ZM1271.8 1480.9a10.2 10.2 0 1 0 20.4 0a10.2 10.2 0 1 0 -20.4 0ZM1271.8 1508.9a10.2 10.2 0 1 0 20.4 0a10.2 10.2 0 1 0 -20.4 0ZM1337.1 1480.9a10.2 10.2 0 1 0 20.4 0a10.2 10.2 0 1 0 -20.4 0ZM1324 1494.9a10.2 10.2 0 1 0 20.4 0a10.2 10.2 0 1 0 -20.4 0ZM1327.3 1494.9a10.2 10.2 0 1 0 20.4 0a10.2 10.2 0 1 0 -20.4 0ZM1343.6 1508.9a10.2 10.2 0 1 0 20.4 0a10.2 10.2 0 1 0 -20.4 0ZM1314.2 1550.9a10.2 10.2 0 1 0 20.4 0a10.2 10.2 0 1 0 -20.4 0ZM1170.5 1550.9a10.2 10.2 0 1 0 20.4 0a10.2 10.2 0 1 0 -20.4 0ZM1186.8 1550.9a10.2 10.2 0 1 0 20.4 0a10.2 10.2 0 1 0 -20.4 0ZM1180.3 1564.9a10.2 10.2 0 1 0 20.4 0a10.2 10.2 0 1 0 -20.4 0ZM1242.4 1564.9a10.2 10.2 0 1 0 20.4 0a10.2 10.2 0 1 0 -20.4 0ZM1144.4 1592.9a10.2 10.2 0 1 0 20.4 0a10.2 10.2 0 1 0 -20.4 0ZM1160.7 1592.9a10.2 10.2 0 1 0 20.4 0a10.2 10.2 0 1 0 -20.4 0ZM1183.6 1592.9a10.2 10.2 0 1 0 20.4 0a10.2 10.2 0 1 0 -20.4 0ZM1190.1 1592.9a10.2 10.2 0 1 0 20.4 0a10.2 10.2 0 1 0 -20.4 0ZM1203.2 1592.9a10.2 10.2 0 1 0 20.4 0a10.2 10.2 0 1 0 -20.4 0ZM1242.4 1592.9a10.2 10.2 0 1 0 20.4 0a10.2 10.2 0 1 0 -20.4 0ZM1160.7 1606.9a10.2 10.2 0 1 0 20.4 0a10.2 10.2 0 1 0 -20.4 0ZM1173.8 1606.9a10.2 10.2 0 1 0 20.4 0a10.2 10.2 0 1 0 -20.4 0ZM1196.6 1606.9a10.2 10.2 0 1 0 20.4 0a10.2 10.2 0 1 0 -20.4 0ZM1108.5 1620.9a10.2 10.2 0 1 0 20.4 0a10.2 10.2 0 1 0 -20.4 0ZM1121.5 1620.9a10.2 10.2 0 1 0 20.4 0a10.2 10.2 0 1 0 -20.4 0ZM1128.1 1620.9a10.2 10.2 0 1 0 20.4 0a10.2 10.2 0 1 0 -20.4 0ZM1150.9 1620.9a10.2 10.2 0 1 0 20.4 0a10.2 10.2 0 1 0 -20.4 0ZM1167.3 1620.9a10.2 10.2 0 1 0 20.4 0a10.2 10.2 0 1 0 -20.4 0ZM1183.6 1620.9a10.2 10.2 0 1 0 20.4 0a10.2 10.2 0 1 0 -20.4 0ZM1186.8 1620.9a10.2 10.2 0 1 0 20.4 0a10.2 10.2 0 1 0 -20.4 0ZM1101.9 1634.9a10.2 10.2 0 1 0 20.4 0a10.2 10.2 0 1 0 -20.4 0ZM1115 1634.9a10.2 10.2 0 1 0 20.4 0a10.2 10.2 0 1 0 -20.4 0ZM1124.8 1634.9a10.2 10.2 0 1 0 20.4 0a10.2 10.2 0 1 0 -20.4 0ZM1131.3 1634.9a10.2 10.2 0 1 0 20.4 0a10.2 10.2 0 1 0 -20.4 0ZM1137.9 1634.9a10.2 10.2 0 1 0 20.4 0a10.2 10.2 0 1 0 -20.4 0ZM1144.4 1634.9a10.2 10.2 0 1 0 20.4 0a10.2 10.2 0 1 0 -20.4 0ZM1157.5 1634.9a10.2 10.2 0 1 0 20.4 0a10.2 10.2 0 1 0 -20.4 0ZM1098.7 1648.9a10.2 10.2 0 1 0 20.4 0a10.2 10.2 0 1 0 -20.4 0ZM1101.9 1648.9a10.2 10.2 0 1 0 20.4 0a10.2 10.2 0 1 0 -20.4 0ZM1105.2 1648.9a10.2 10.2 0 1 0 20.4 0a10.2 10.2 0 1 0 -20.4 0ZM1108.5 1648.9a10.2 10.2 0 1 0 20.4 0a10.2 10.2 0 1 0 -20.4 0ZM1111.7 1648.9a10.2 10.2 0 1 0 20.4 0a10.2 10.2 0 1 0 -20.4 0ZM1115 1648.9a10.2 10.2 0 1 0 20.4 0a10.2 10.2 0 1 0 -20.4 0ZM1118.3 1648.9a10.2 10.2 0 1 0 20.4 0a10.2 10.2 0 1 0 -20.4 0ZM1121.5 1648.9a10.2 10.2 0 1 0 20.4 0a10.2 10.2 0 1 0 -20.4 0ZM1124.8 1648.9a10.2 10.2 0 1 0 20.4 0a10.2 10.2 0 1 0 -20.4 0ZM1128.1 1648.9a10.2 10.2 0 1 0 20.4 0a10.2 10.2 0 1 0 -20.4 0ZM1131.3 1648.9a10.2 10.2 0 1 0 20.4 0a10.2 10.2 0 1 0 -20.4 0ZM1134.6 1648.9a10.2 10.2 0 1 0 20.4 0a10.2 10.2 0 1 0 -20.4 0ZM1137.9 1648.9a10.2 10.2 0 1 0 20.4 0a10.2 10.2 0 1 0 -20.4 0ZM1141.1 1648.9a10.2 10.2 0 1 0 20.4 0a10.2 10.2 0 1 0 -20.4 0ZM1144.4 1648.9a10.2 10.2 0 1 0 20.4 0a10.2 10.2 0 1 0 -20.4 0ZM1150.9 1648.9a10.2 10.2 0 1 0 20.4 0a10.2 10.2 0 1 0 -20.4 0ZM1265.6 1632.7L1251.6 1657H1279.7ZM1131.7 1660.7L1117.7 1685H1145.8ZM1138.3 1660.7L1124.2 1685H1152.3ZM1144.8 1660.7L1130.8 1685H1158.8Z" fill="#fff" stroke="none"/>
<path d="M1781.7 1089H1905.8M1843.7 977V1201" stroke="#cbd9c9" stroke-width="3.7" stroke-opacity="1" fill="none"/>
<path d="M1399.5 1341H1510.6M1455.1 1229V1452.9" stroke="#d8c8b3" stroke-width="3.7" stroke-opacity="1" fill="none"/>
<path d="M1255.8 1578.9H1347.3M1301.6 1508.9V1634.9" stroke="#ae9ed6" stroke-width="3.7" stroke-opacity="1" fill="none"/>
<path d="M1239.5 1480.9H1327.7M1282 1383V1564.9" stroke="#dfbba4" stroke-width="3.7" stroke-opacity="1" fill="none"/>
<path d="M1239.5 1508.9H1327.7M1282 1425V1592.9" stroke="#d7c9b5" stroke-width="3.7" stroke-opacity="1" fill="none"/>
<path d="M1298.3 1480.9H1396.3M1347.3 1383V1564.9" stroke="#cdd8c7" stroke-width="3.7" stroke-opacity="1" fill="none"/>
<path d="M1285.2 1494.9H1383.2M1334.2 1397V1578.9" stroke="#cbd9c9" stroke-width="3.7" stroke-opacity="1" fill="none"/>
<path d="M1288.5 1494.9H1386.5M1337.5 1397V1578.9" stroke="#cadbcb" stroke-width="3.7" stroke-opacity="1" fill="none"/>
<path d="M1304.8 1508.9H1406.1M1353.8 1425V1592.9" stroke="#c2c7cf" stroke-width="3.7" stroke-opacity="1" fill="none"/>
<path d="M1278.7 1550.9H1373.4M1324.4 1466.9V1620.9" stroke="#b8b1d3" stroke-width="3.7" stroke-opacity="1" fill="none"/>
<path d="M1151.3 1550.9H1213.4M1180.7 1466.9V1620.9" stroke="#ec977b" stroke-width="3.7" stroke-opacity="1" fill="none"/>
<path d="M1164.4 1550.9H1229.7M1197 1466.9V1620.9" stroke="#e6a98f" stroke-width="3.7" stroke-opacity="1" fill="none"/>
<path d="M1161.1 1564.9H1223.2M1190.5 1480.9V1634.9" stroke="#e5ad94" stroke-width="3.7" stroke-opacity="1" fill="none"/>
<path d="M1213.4 1564.9H1295M1252.6 1480.9V1634.9" stroke="#c9d7cc" stroke-width="3.7" stroke-opacity="1" fill="none"/>
<path d="M1131.7 1592.9H1180.7M1154.6 1522.9V1648.9" stroke="#eb997d" stroke-width="3.7" stroke-opacity="1" fill="none"/>
<path d="M1144.8 1592.9H1200.3M1170.9 1522.9V1648.9" stroke="#e3b198" stroke-width="3.7" stroke-opacity="1" fill="none"/>
<path d="M1164.4 1592.9H1226.4M1193.8 1522.9V1648.9" stroke="#d6cab6" stroke-width="3.7" stroke-opacity="1" fill="none"/>
<path d="M1167.7 1592.9H1236.2M1200.3 1522.9V1648.9" stroke="#d2d0be" stroke-width="3.7" stroke-opacity="1" fill="none"/>
<path d="M1180.7 1592.9H1249.3M1213.4 1522.9V1648.9" stroke="#cadacb" stroke-width="3.7" stroke-opacity="1" fill="none"/>
<path d="M1213.4 1592.9H1295M1252.6 1522.9V1648.9" stroke="#b8b1d3" stroke-width="3.7" stroke-opacity="1" fill="none"/>
<path d="M1144.8 1606.9H1200.3M1170.9 1536.9V1662.9" stroke="#dcc1ab" stroke-width="3.7" stroke-opacity="1" fill="none"/>
<path d="M1154.6 1606.9H1216.6M1184 1536.9V1662.9" stroke="#d2d0bd" stroke-width="3.7" stroke-opacity="1" fill="none"/>
<path d="M1174.2 1606.9H1242.8M1206.8 1536.9V1662.9" stroke="#c4cbce" stroke-width="3.7" stroke-opacity="1" fill="none"/>
<path d="M1108.9 1620.9H1131.7M1118.7 1564.9V1662.9" stroke="#f04d32" stroke-width="3.7" stroke-opacity="1" fill="none"/>
<path d="M1115.4 1620.9H1151.3M1131.7 1564.9V1662.9" stroke="#ee8b6e" stroke-width="3.7" stroke-opacity="1" fill="none"/>
<path d="M1118.7 1620.9H1161.1M1138.3 1564.9V1662.9" stroke="#ea9e82" stroke-width="3.7" stroke-opacity="1" fill="none"/>
<path d="M1138.3 1620.9H1187.3M1161.1 1564.9V1662.9" stroke="#d9c7b2" stroke-width="3.7" stroke-opacity="1" fill="none"/>
<path d="M1151.3 1620.9H1206.8M1177.5 1564.9V1662.9" stroke="#cadbcb" stroke-width="3.7" stroke-opacity="1" fill="none"/>
<path d="M1164.4 1620.9H1226.4M1193.8 1564.9V1662.9" stroke="#bfc1d0" stroke-width="3.7" stroke-opacity="1" fill="none"/>
<path d="M1164.4 1620.9H1229.7M1197 1564.9V1662.9" stroke="#bdbcd1" stroke-width="3.7" stroke-opacity="1" fill="none"/>
<path d="M1105.6 1634.9H1121.9M1112.1 1578.9V1676.9" stroke="#f0432a" stroke-width="3.7" stroke-opacity="1" fill="none"/>
<path d="M1112.1 1634.9H1141.5M1125.2 1578.9V1676.9" stroke="#ed9276" stroke-width="3.7" stroke-opacity="1" fill="none"/>
<path d="M1118.7 1634.9H1154.6M1135 1578.9V1676.9" stroke="#e4ae95" stroke-width="3.7" stroke-opacity="1" fill="none"/>
<path d="M1121.9 1634.9H1164.4M1141.5 1578.9V1676.9" stroke="#debda6" stroke-width="3.7" stroke-opacity="1" fill="none"/>
<path d="M1128.5 1634.9H1170.9M1148.1 1578.9V1676.9" stroke="#d7c9b5" stroke-width="3.7" stroke-opacity="1" fill="none"/>
<path d="M1131.7 1634.9H1180.7M1154.6 1578.9V1676.9" stroke="#d0d4c2" stroke-width="3.7" stroke-opacity="1" fill="none"/>
<path d="M1141.5 1634.9H1197M1167.7 1578.9V1676.9" stroke="#c3cacf" stroke-width="3.7" stroke-opacity="1" fill="none"/>
<path d="M1105.6 1648.9H1115.4M1108.9 1606.9V1676.9" stroke="#f15a3d" stroke-width="3.7" stroke-opacity="1" fill="none"/>
<path d="M1105.6 1648.9H1121.9M1112.1 1606.9V1676.9" stroke="#f07758" stroke-width="3.7" stroke-opacity="1" fill="none"/>
<path d="M1105.6 1648.9H1128.5M1115.4 1606.9V1676.9" stroke="#ee8c6f" stroke-width="3.7" stroke-opacity="1" fill="none"/>
<path d="M1108.9 1648.9H1131.7M1118.7 1606.9V1676.9" stroke="#ea9c81" stroke-width="3.7" stroke-opacity="1" fill="none"/>
<path d="M1108.9 1648.9H1138.3M1121.9 1606.9V1676.9" stroke="#e7a98f" stroke-width="3.7" stroke-opacity="1" fill="none"/>
<path d="M1112.1 1648.9H1141.5M1125.2 1606.9V1676.9" stroke="#e2b39b" stroke-width="3.7" stroke-opacity="1" fill="none"/>
<path d="M1112.1 1648.9H1148.1M1128.5 1606.9V1676.9" stroke="#debda6" stroke-width="3.7" stroke-opacity="1" fill="none"/>
<path d="M1115.4 1648.9H1151.3M1131.7 1606.9V1676.9" stroke="#d9c5b0" stroke-width="3.7" stroke-opacity="1" fill="none"/>
<path d="M1118.7 1648.9H1154.6M1135 1606.9V1676.9" stroke="#d4cdba" stroke-width="3.7" stroke-opacity="1" fill="none"/>
<path d="M1118.7 1648.9H1161.1M1138.3 1606.9V1676.9" stroke="#cfd5c3" stroke-width="3.7" stroke-opacity="1" fill="none"/>
<path d="M1121.9 1648.9H1164.4M1141.5 1606.9V1676.9" stroke="#cadbcb" stroke-width="3.7" stroke-opacity="1" fill="none"/>
<path d="M1125.2 1648.9H1167.7M1144.8 1606.9V1676.9" stroke="#c6d1cd" stroke-width="3.7" stroke-opacity="1" fill="none"/>
<path d="M1128.5 1648.9H1170.9M1148.1 1606.9V1676.9" stroke="#c2c8cf" stroke-width="3.7" stroke-opacity="1" fill="none"/>
<path d="M1128.5 1648.9H1177.5M1151.3 1606.9V1676.9" stroke="#bfc0d0" stroke-width="3.7" stroke-opacity="1" fill="none"/>
<path d="M1131.7 1648.9H1180.7M1154.6 1606.9V1676.9" stroke="#bbb8d2" stroke-width="3.7" stroke-opacity="1" fill="none"/>
<path d="M1138.3 1648.9H1187.3M1161.1 1606.9V1676.9" stroke="#b4a9d4" stroke-width="3.7" stroke-opacity="1" fill="none"/>
<path d="M1226.4 1648.9H1308.1M1265.6 1606.9V1676.9" stroke="#4427e1" stroke-width="3.7" stroke-opacity="1" fill="none"/>
<path d="M1115.4 1676.9H1151.3" stroke="#623ee0" stroke-width="3.7" stroke-opacity="1" fill="none"/>
<path d="M1118.7 1676.9H1161.1" stroke="#4426e1" stroke-width="3.7" stroke-opacity="1" fill="none"/>
<path d="M1125.2 1676.9H1167.7" stroke="#1e10e2" stroke-width="3.7" stroke-opacity="1" fill="none"/>
<circle cx="1843.7" cy="1089" r="9.2" fill="#cbd9c9" fill-opacity="0.72" stroke="#000" stroke-opacity="0.72" stroke-width="2.8"/>
<circle cx="1455.1" cy="1341" r="9.2" fill="#d8c8b3" fill-opacity="0.72" stroke="#000" stroke-opacity="0.72" stroke-width="2.8"/>
<circle cx="1301.6" cy="1578.9" r="9.2" fill="#ae9ed6" fill-opacity="0.72" stroke="#000" stroke-opacity="0.72" stroke-width="2.8"/>
<circle cx="1282" cy="1480.9" r="9.2" fill="#dfbba4" fill-opacity="0.72" stroke="#000" stroke-opacity="0.72" stroke-width="2.8"/>
<circle cx="1282" cy="1508.9" r="9.2" fill="#d7c9b5" fill-opacity="0.72" stroke="#000" stroke-opacity="0.72" stroke-width="2.8"/>
<circle cx="1347.3" cy="1480.9" r="9.2" fill="#cdd8c7" fill-opacity="0.72" stroke="#000" stroke-opacity="0.72" stroke-width="2.8"/>
<circle cx="1334.2" cy="1494.9" r="9.2" fill="#cbd9c9" fill-opacity="0.72" stroke="#000" stroke-opacity="0.72" stroke-width="2.8"/>
<circle cx="1337.5" cy="1494.9" r="9.2" fill="#cadbcb" fill-opacity="0.72" stroke="#000" stroke-opacity="0.72" stroke-width="2.8"/>
<circle cx="1353.8" cy="1508.9" r="9.2" fill="#c2c7cf" fill-opacity="0.72" stroke="#000" stroke-opacity="0.72" stroke-width="2.8"/>
<circle cx="1324.4" cy="1550.9" r="9.2" fill="#b8b1d3" fill-opacity="0.72" stroke="#000" stroke-opacity="0.72" stroke-width="2.8"/>
<circle cx="1180.7" cy="1550.9" r="9.2" fill="#ec977b" fill-opacity="0.72" stroke="#000" stroke-opacity="0.72" stroke-width="2.8"/>
<circle cx="1197" cy="1550.9" r="9.2" fill="#e6a98f" fill-opacity="0.72" stroke="#000" stroke-opacity="0.72" stroke-width="2.8"/>
<circle cx="1190.5" cy="1564.9" r="9.2" fill="#e5ad94" fill-opacity="0.72" stroke="#000" stroke-opacity="0.72" stroke-width="2.8"/>
<circle cx="1252.6" cy="1564.9" r="9.2" fill="#c9d7cc" fill-opacity="0.72" stroke="#000" stroke-opacity="0.72" stroke-width="2.8"/>
<circle cx="1154.6" cy="1592.9" r="9.2" fill="#eb997d" fill-opacity="0.72" stroke="#000" stroke-opacity="0.72" stroke-width="2.8"/>
<circle cx="1170.9" cy="1592.9" r="9.2" fill="#e3b198" fill-opacity="0.72" stroke="#000" stroke-opacity="0.72" stroke-width="2.8"/>
<circle cx="1193.8" cy="1592.9" r="9.2" fill="#d6cab6" fill-opacity="0.72" stroke="#000" stroke-opacity="0.72" stroke-width="2.8"/>
<circle cx="1200.3" cy="1592.9" r="9.2" fill="#d2d0be" fill-opacity="0.72" stroke="#000" stroke-opacity="0.72" stroke-width="2.8"/>
<circle cx="1213.4" cy="1592.9" r="9.2" fill="#cadacb" fill-opacity="0.72" stroke="#000" stroke-opacity="0.72" stroke-width="2.8"/>
<circle cx="1252.6" cy="1592.9" r="9.2" fill="#b8b1d3" fill-opacity="0.72" stroke="#000" stroke-opacity="0.72" stroke-width="2.8"/>
<circle cx="1170.9" cy="1606.9" r="9.2" fill="#dcc1ab" fill-opacity="0.72" stroke="#000" stroke-opacity="0.72" stroke-width="2.8"/>
<circle cx="1184" cy="1606.9" r="9.2" fill="#d2d0bd" fill-opacity="0.72" stroke="#000" stroke-opacity="0.72" stroke-width="2.8"/>
<circle cx="1206.8" cy="1606.9" r="9.2" fill="#c4cbce" fill-opacity="0.72" stroke="#000" stroke-opacity="0.72" stroke-width="2.8"/>
<circle cx="1118.7" cy="1620.9" r="9.2" fill="#f04d32" fill-opacity="0.72" stroke="#000" stroke-opacity="0.72" stroke-width="2.8"/>
<circle cx="1131.7" cy="1620.9" r="9.2" fill="#ee8b6e" fill-opacity="0.72" stroke="#000" stroke-opacity="0.72" stroke-width="2.8"/>
<circle cx="1138.3" cy="1620.9" r="9.2" fill="#ea9e82" fill-opacity="0.72" stroke="#000" stroke-opacity="0.72" stroke-width="2.8"/>
<circle cx="1161.1" cy="1620.9" r="9.2" fill="#d9c7b2" fill-opacity="0.72" stroke="#000" stroke-opacity="0.72" stroke-width="2.8"/>
<circle cx="1177.5" cy="1620.9" r="9.2" fill="#cadbcb" fill-opacity="0.72" stroke="#000" stroke-opacity="0.72" stroke-width="2.8"/>
<circle cx="1193.8" cy="1620.9" r="9.2" fill="#bfc1d0" fill-opacity="0.72" stroke="#000" stroke-opacity="0.72" stroke-width="2.8"/>
<circle cx="1197" cy="1620.9" r="9.2" fill="#bdbcd1" fill-opacity="0.72" stroke="#000" stroke-opacity="0.72" stroke-width="2.8"/>
<circle cx="1112.1" cy="1634.9" r="9.2" fill="#f0432a" fill-opacity="0.72" stroke="#000" stroke-opacity="0.72" stroke-width="2.8"/>
<circle cx="1125.2" cy="1634.9" r="9.2" fill="#ed9276" fill-opacity="0.72" stroke="#000" stroke-opacity="0.72" stroke-width="2.8"/>
<circle cx="1135" cy="1634.9" r="9.2" fill="#e4ae95" fill-opacity="0.72" stroke="#000" stroke-opacity="0.72" stroke-width="2.8"/>
<circle cx="1141.5" cy="1634.9" r="9.2" fill="#debda6" fill-opacity="0.72" stroke="#000" stroke-opacity="0.72" stroke-width="2.8"/>
<circle cx="1148.1" cy="1634.9" r="9.2" fill="#d7c9b5" fill-opacity="0.72" stroke="#000" stroke-opacity="0.72" stroke-width="2.8"/>
<circle cx="1154.6" cy="1634.9" r="9.2" fill="#d0d4c2" fill-opacity="0.72" stroke="#000" stroke-opacity="0.72" stroke-width="2.8"/>
<circle cx="1167.7" cy="1634.9" r="9.2" fill="#c3cacf" fill-opacity="0.72" stroke="#000" stroke-opacity="0.72" stroke-width="2.8"/>
<circle cx="1108.9" cy="1648.9" r="9.2" fill="#f15a3d" fill-opacity="0.72" stroke="#000" stroke-opacity="0.72" stroke-width="2.8"/>
<circle cx="1112.1" cy="1648.9" r="9.2" fill="#f07758" fill-opacity="0.72" stroke="#000" stroke-opacity="0.72" stroke-width="2.8"/>
<circle cx="1115.4" cy="1648.9" r="9.2" fill="#ee8c6f" fill-opacity="0.72" stroke="#000" stroke-opacity="0.72" stroke-width="2.8"/>
<circle cx="1118.7" cy="1648.9" r="9.2" fill="#ea9c81" fill-opacity="0.72" stroke="#000" stroke-opacity="0.72" stroke-width="2.8"/>
<circle cx="1121.9" cy="1648.9" r="9.2" fill="#e7a98f" fill-opacity="0.72" stroke="#000" stroke-opacity="0.72" stroke-width="2.8"/>
<circle cx="1125.2" cy="1648.9" r="9.2" fill="#e2b39b" fill-opacity="0.72" stroke="#000" stroke-opacity="0.72" stroke-width="2.8"/>
<circle cx="1128.5" cy="1648.9" r="9.2" fill="#debda6" fill-opacity="0.72" stroke="#000" stroke-opacity="0.72" stroke-width="2.8"/>
<circle cx="1131.7" cy="1648.9" r="9.2" fill="#d9c5b0" fill-opacity="0.72" stroke="#000" stroke-opacity="0.72" stroke-width="2.8"/>
<circle cx="1135" cy="1648.9" r="9.2" fill="#d4cdba" fill-opacity="0.72" stroke="#000" stroke-opacity="0.72" stroke-width="2.8"/>
<circle cx="1138.3" cy="1648.9" r="9.2" fill="#cfd5c3" fill-opacity="0.72" stroke="#000" stroke-opacity="0.72" stroke-width="2.8"/>
<circle cx="1141.5" cy="1648.9" r="9.2" fill="#cadbcb" fill-opacity="0.72" stroke="#000" stroke-opacity="0.72" stroke-width="2.8"/>
<circle cx="1144.8" cy="1648.9" r="9.2" fill="#c6d1cd" fill-opacity="0.72" stroke="#000" stroke-opacity="0.72" stroke-width="2.8"/>
<circle cx="1148.1" cy="1648.9" r="9.2" fill="#c2c8cf" fill-opacity="0.72" stroke="#000" stroke-opacity="0.72" stroke-width="2.8"/>
<circle cx="1151.3" cy="1648.9" r="9.2" fill="#bfc0d0" fill-opacity="0.72" stroke="#000" stroke-opacity="0.72" stroke-width="2.8"/>
<circle cx="1154.6" cy="1648.9" r="9.2" fill="#bbb8d2" fill-opacity="0.72" stroke="#000" stroke-opacity="0.72" stroke-width="2.8"/>
<circle cx="1161.1" cy="1648.9" r="9.2" fill="#b4a9d4" fill-opacity="0.72" stroke="#000" stroke-opacity="0.72" stroke-width="2.8"/>
<polygon points="1265.6,1634.3 1253,1656.2 1278.3,1656.2" fill="#4427e1" fill-opacity="0.72" stroke="#000" stroke-opacity="0.72" stroke-width="2.8" stroke-linejoin="round"/>
<polygon points="1131.7,1662.3 1119.1,1684.2 1144.4,1684.2" fill="#623ee0" fill-opacity="0.72" stroke="#000" stroke-opacity="0.72" stroke-width="2.8" stroke-linejoin="round"/>
<polygon points="1138.3,1662.3 1125.6,1684.2 1150.9,1684.2" fill="#4426e1" fill-opacity="0.72" stroke="#000" stroke-opacity="0.72" stroke-width="2.8" stroke-linejoin="round"/>
<polygon points="1144.8,1662.3 1132.1,1684.2 1157.4,1684.2" fill="#1e10e2" fill-opacity="0.72" stroke="#000" stroke-opacity="0.72" stroke-width="2.8" stroke-linejoin="round"/>
</g>
<path d="M1800.3 1147.4L1839.1 1095" stroke="#000" stroke-width="3.6" stroke-linecap="round" fill="none"/>
<path d="M1484.9 1280.4L1458 1334.2" stroke="#000" stroke-width="3.6" stroke-linecap="round" fill="none"/>
<path d="M1294.3 1320.3L1282.6 1473.9" stroke="#000" stroke-width="3.6" stroke-linecap="round" fill="none"/>
<path d="M1132.1 1392.7L1181.5 1543.8" stroke="#000" stroke-width="3.6" stroke-linecap="round" fill="none"/>
<path d="M1380.4 1432.5L1351.8 1474.2" stroke="#000" stroke-width="3.6" stroke-linecap="round" fill="none"/>
<path d="M1136.5 1504.1L1193.2 1585.7" stroke="#000" stroke-width="3.6" stroke-linecap="round" fill="none"/>
<path d="M1410.3 1525.5L1361.9 1511.5" stroke="#000" stroke-width="3.6" stroke-linecap="round" fill="none"/>
<path d="M1444.3 1637.6L1261.9 1594.4" stroke="#000" stroke-width="3.6" stroke-linecap="round" fill="none"/>
<path d="M1145.1 1643.3L1168.5 1613.5" stroke="#000" stroke-width="3.6" stroke-linecap="round" fill="none"/>
<path d="M1254.3 1658.4L1217.2 1598" stroke="#000" stroke-width="3.6" stroke-linecap="round" fill="none"/>
<rect x="1724.8" y="1133.6" width="75.5" height="36.1" rx="6.5" fill="#cbd9c9" stroke="#000" stroke-width="1.1"/>
<text x="1762.5" y="1159.9" text-anchor="middle" font-size="23.4" fill="#000" stroke="#000" stroke-width="0.3">TP53</text>
<rect x="1484.9" y="1259" width="102.8" height="36.3" rx="6.5" fill="#d8c8b3" stroke="#000" stroke-width="1.1"/>
<text x="1536.3" y="1285.4" text-anchor="middle" font-size="23.4" fill="#000" stroke="#000" stroke-width="0.3">PIK3CA</text>
<rect x="1246.2" y="1284.3" width="96.6" height="36" rx="6.5" fill="#dfbba4" stroke="#000" stroke-width="1.1"/>
<text x="1294.5" y="1310.5" text-anchor="middle" font-size="23.4" fill="#000" stroke="#000" stroke-width="0.3">FGFR1</text>
<rect x="1092.3" y="1356.7" width="78.1" height="36" rx="6.5" fill="#ec977b" stroke="#000" stroke-width="1.1"/>
<text x="1131.3" y="1382.9" text-anchor="middle" font-size="23.4" fill="#000" stroke="#000" stroke-width="0.3">AKT1</text>
<rect x="1335.3" y="1396.3" width="101.1" height="36" rx="6.5" fill="#cdd8c7" stroke="#000" stroke-width="1.1"/>
<text x="1385.8" y="1422.5" text-anchor="middle" font-size="23.4" fill="#000" stroke="#000" stroke-width="0.3">CCND1</text>
<rect x="1092.3" y="1468.3" width="80.3" height="35.8" rx="6.5" fill="#d6cab6" stroke="#000" stroke-width="1.1"/>
<text x="1132.4" y="1494.4" text-anchor="middle" font-size="23.4" fill="#000" stroke="#000" stroke-width="0.3">ESR1</text>
<rect x="1410.3" y="1508.1" width="72.2" height="36.2" rx="6.5" fill="#c2c7cf" stroke="#000" stroke-width="1.1"/>
<text x="1446.4" y="1534.4" text-anchor="middle" font-size="23.4" fill="#000" stroke="#000" stroke-width="0.3">MYC</text>
<rect x="1252.6" y="1556.5" width="82" height="36" rx="6.5" fill="#ae9ed6" stroke="#000" stroke-width="1.1"/>
<text x="1293.6" y="1582.7" text-anchor="middle" font-size="23.4" fill="#000" stroke="#000" stroke-width="0.3">PTEN</text>
<rect x="1444.3" y="1619.6" width="65.6" height="36.2" rx="6.5" fill="#b8b1d3" stroke="#000" stroke-width="1.1"/>
<text x="1477.1" y="1645.9" text-anchor="middle" font-size="23.4" fill="#000" stroke="#000" stroke-width="0.3">RB1</text>
<rect x="1092.3" y="1643.3" width="85.5" height="36.1" rx="6.5" fill="#dcc1ab" stroke="#000" stroke-width="1.1"/>
<text x="1135" y="1669.5" text-anchor="middle" font-size="23.4" fill="#000" stroke="#000" stroke-width="0.3">GNAS</text>
<rect x="1254.3" y="1643.5" width="115.2" height="36" rx="6.5" fill="#cadacb" stroke="#000" stroke-width="1.1"/>
<text x="1311.9" y="1669.7" text-anchor="middle" font-size="23.4" fill="#000" stroke="#000" stroke-width="0.3">CDKN2A</text>
<rect x="1054.2" y="1050.6" width="852.1" height="665.6" fill="none" stroke="#333" stroke-width="1.8"/>
<path d="M1054.2 1717.1V1050.6H1906.3V1717.1" fill="none" stroke="#333" stroke-width="3.6" stroke-linejoin="miter"/>
<path d="M1105.6 1716.2v9M1054.2 1676.9h-9M1359.7 1716.2v9M1054.2 1478.1h-9M1613.8 1716.2v9M1054.2 1279.4h-9M1867.9 1716.2v9M1054.2 1080.6h-9" stroke="#333" stroke-width="3.5" fill="none"/>
<text x="1105.6" y="1747.5" text-anchor="middle" font-size="25.2" fill="#4d4d4d">0</text>
<text x="1040.7" y="1685.9" text-anchor="end" font-size="25.2" fill="#4d4d4d">0</text>
<text x="1359.7" y="1747.5" text-anchor="middle" font-size="25.2" fill="#4d4d4d">20</text>
<text x="1040.7" y="1487.1" text-anchor="end" font-size="25.2" fill="#4d4d4d">20</text>
<text x="1613.8" y="1747.5" text-anchor="middle" font-size="25.2" fill="#4d4d4d">40</text>
<text x="1040.7" y="1288.4" text-anchor="end" font-size="25.2" fill="#4d4d4d">40</text>
<text x="1867.9" y="1747.5" text-anchor="middle" font-size="25.2" fill="#4d4d4d">60</text>
<text x="1040.7" y="1089.6" text-anchor="end" font-size="25.2" fill="#4d4d4d">60</text>
<text x="1502.2" y="1779.8" text-anchor="middle" font-size="31.3" fill="#000" class="k">Median prevalence pre−treatment (%)</text>
<text transform="translate(1001 1361.4) rotate(-90)" text-anchor="middle" font-size="31.45" fill="#000" class="k">Median prevalence post−treatment (%)</text>
<text x="1053.7" y="986.7" font-size="38.5" fill="#000" class="k">Alteration prevalence for the chemotherapy cohort</text>
<text x="1052.7" y="1029.1" font-size="31.6" fill="#000" class="k">Cohort size: 389 pre- vs. 71 post-treatment</text>
<text x="983" y="987.5" font-size="61" font-weight="bold" fill="#000" class="k">d</text>
</g>
<g id="legend-top"><text x="1953.5" y="166.6" font-size="31.6" fill="#000" class="k">FDR</text>
<circle cx="1957.8" cy="199.8" r="7.7" fill="none" stroke="#4d4d4d" stroke-width="1.7"/>
<polygon points="1957.8,226 1947.6,243.4 1968,243.4" fill="none" stroke="#4d4d4d" stroke-width="1.7"/>
<text x="1988.5" y="207" font-size="24.3" fill="#000" class="k">&gt;0.2</text>
<text x="1988.5" y="245" font-size="24.3" fill="#000" class="k">&lt;0.2</text>
<text x="1912" y="319.5" font-size="31.6" fill="#000" class="k">fold-change</text>
<text x="1987.5" y="345.5" text-anchor="middle" font-size="24.3" fill="#000" class="k">post-trt</text>
<rect x="1964" y="365.5" width="47" height="303" fill="url(#cbar)" stroke="#000" stroke-width="1.8"/>
<text x="2019.5" y="377.7" font-size="24.3" fill="#000" class="k">4</text>
<text x="2019.5" y="449.6" font-size="24.3" fill="#000" class="k">2</text>
<text x="2019.5" y="525.4" font-size="24.3" fill="#000" class="k">1</text>
<text x="2019.5" y="601.1" font-size="24.3" fill="#000" class="k">1/2</text>
<text x="2019.5" y="676.9" font-size="24.3" fill="#000" class="k">1/4</text>
<path d="M1964 441.2h12M2011 441.2h-12M1964 517h12M2011 517h-12M1964 592.8h12M2011 592.8h-12" stroke="#000" stroke-width="1" fill="none"/>
<text x="1987.5" y="699.5" text-anchor="middle" font-size="24.3" fill="#000" class="k">pre-trt</text></g>
<g id="legend-bottom"><text x="1953.5" y="1120.1" font-size="31.6" fill="#000" class="k">FDR</text>
<circle cx="1957.8" cy="1153.3" r="7.7" fill="none" stroke="#4d4d4d" stroke-width="1.7"/>
<polygon points="1957.8,1179.5 1947.6,1196.9 1968,1196.9" fill="none" stroke="#4d4d4d" stroke-width="1.7"/>
<text x="1988.5" y="1160.5" font-size="24.3" fill="#000" class="k">&gt;0.2</text>
<text x="1988.5" y="1198.5" font-size="24.3" fill="#000" class="k">&lt;0.2</text>
<text x="1912" y="1273" font-size="31.6" fill="#000" class="k">fold-change</text>
<text x="1987.5" y="1299" text-anchor="middle" font-size="24.3" fill="#000" class="k">post-trt</text>
<rect x="1964" y="1319" width="47" height="303" fill="url(#cbar)" stroke="#000" stroke-width="1.8"/>
<text x="2019.5" y="1331.2" font-size="24.3" fill="#000" class="k">4</text>
<text x="2019.5" y="1403.2" font-size="24.3" fill="#000" class="k">2</text>
<text x="2019.5" y="1478.9" font-size="24.3" fill="#000" class="k">1</text>
<text x="2019.5" y="1554.7" font-size="24.3" fill="#000" class="k">1/2</text>
<text x="2019.5" y="1630.4" font-size="24.3" fill="#000" class="k">1/4</text>
<path d="M1964 1394.8h12M2011 1394.8h-12M1964 1470.5h12M2011 1470.5h-12M1964 1546.2h12M2011 1546.2h-12" stroke="#000" stroke-width="1" fill="none"/>
<text x="1987.5" y="1653" text-anchor="middle" font-size="24.3" fill="#000" class="k">pre-trt</text></g>
</svg></body></html>
